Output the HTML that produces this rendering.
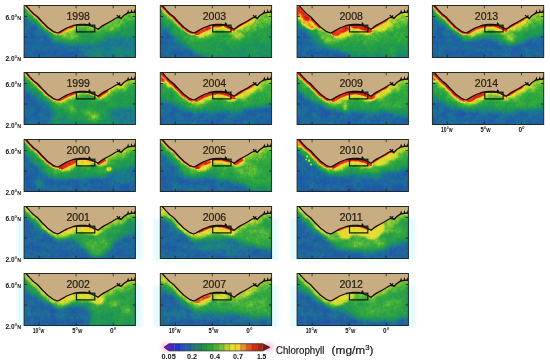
<!DOCTYPE html><html><head><meta charset="utf-8"><title>Chlorophyll</title><style>html,body{margin:0;padding:0;background:#fff}svg{display:block}text{font-family:"Liberation Sans",sans-serif}</style></head><body>
<svg width="550" height="364" viewBox="0 0 550 364">
<defs><filter id="hb" x="-20%" y="-80%" width="140%" height="260%"><feGaussianBlur stdDeviation="1.6"/></filter><filter id="hb2" x="-10%" y="-20%" width="120%" height="140%"><feGaussianBlur stdDeviation="1.2"/></filter><clipPath id="pc"><rect x="0" y="0" width="111.3" height="52"/></clipPath><filter id="b0_5" filterUnits="userSpaceOnUse" x="-40" y="-40" width="200" height="140" color-interpolation-filters="sRGB"><feGaussianBlur stdDeviation="0.5"/></filter><filter id="b0_7" filterUnits="userSpaceOnUse" x="-40" y="-40" width="200" height="140" color-interpolation-filters="sRGB"><feGaussianBlur stdDeviation="0.7"/></filter><filter id="b0_8" filterUnits="userSpaceOnUse" x="-40" y="-40" width="200" height="140" color-interpolation-filters="sRGB"><feGaussianBlur stdDeviation="0.8"/></filter><filter id="b1" filterUnits="userSpaceOnUse" x="-40" y="-40" width="200" height="140" color-interpolation-filters="sRGB"><feGaussianBlur stdDeviation="1"/></filter><filter id="b1_2" filterUnits="userSpaceOnUse" x="-40" y="-40" width="200" height="140" color-interpolation-filters="sRGB"><feGaussianBlur stdDeviation="1.2"/></filter><filter id="b1_5" filterUnits="userSpaceOnUse" x="-40" y="-40" width="200" height="140" color-interpolation-filters="sRGB"><feGaussianBlur stdDeviation="1.5"/></filter><filter id="b1_8" filterUnits="userSpaceOnUse" x="-40" y="-40" width="200" height="140" color-interpolation-filters="sRGB"><feGaussianBlur stdDeviation="1.8"/></filter><filter id="b2" filterUnits="userSpaceOnUse" x="-40" y="-40" width="200" height="140" color-interpolation-filters="sRGB"><feGaussianBlur stdDeviation="2"/></filter><filter id="b2_5" filterUnits="userSpaceOnUse" x="-40" y="-40" width="200" height="140" color-interpolation-filters="sRGB"><feGaussianBlur stdDeviation="2.5"/></filter><filter id="b3" filterUnits="userSpaceOnUse" x="-40" y="-40" width="200" height="140" color-interpolation-filters="sRGB"><feGaussianBlur stdDeviation="3"/></filter><filter id="b3_5" filterUnits="userSpaceOnUse" x="-40" y="-40" width="200" height="140" color-interpolation-filters="sRGB"><feGaussianBlur stdDeviation="3.5"/></filter><filter id="b4" filterUnits="userSpaceOnUse" x="-40" y="-40" width="200" height="140" color-interpolation-filters="sRGB"><feGaussianBlur stdDeviation="4"/></filter><filter id="b5" filterUnits="userSpaceOnUse" x="-40" y="-40" width="200" height="140" color-interpolation-filters="sRGB"><feGaussianBlur stdDeviation="5"/></filter><filter id="cm" x="0" y="0" width="100%" height="100%" filterUnits="objectBoundingBox" color-interpolation-filters="sRGB"><feTurbulence type="fractalNoise" baseFrequency="0.09 0.11" numOctaves="2" seed="3" result="n1"/><feColorMatrix in="n1" type="matrix" values="1 0 0 0 0 1 0 0 0 0 1 0 0 0 0 0 0 0 0 1" result="n1g"/><feTurbulence type="fractalNoise" baseFrequency="0.3" numOctaves="2" seed="10" result="n2"/><feColorMatrix in="n2" type="matrix" values="0 1 0 0 0 0 1 0 0 0 0 1 0 0 0 0 0 0 0 1" result="n2g"/><feComposite in="SourceGraphic" in2="n1g" operator="arithmetic" k1="0" k2="1" k3="0.14" k4="-0.07" result="f1"/><feComposite in="f1" in2="n2g" operator="arithmetic" k1="0" k2="1" k3="0.11" k4="-0.055" result="f2"/><feTurbulence type="fractalNoise" baseFrequency="0.75" numOctaves="1" seed="16" result="n3"/><feColorMatrix in="n3" type="matrix" values="0 0 1 0 0 0 0 1 0 0 0 0 1 0 0 0 0 0 0 1" result="n3g"/><feComposite in="f2" in2="n3g" operator="arithmetic" k1="0" k2="1" k3="0.09" k4="-0.045" result="f3"/><feComponentTransfer in="f3"><feFuncR type="table" tableValues="0.353 0.227 0.157 0.122 0.114 0.102 0.102 0.118 0.157 0.235 0.439 0.722 0.902 0.957 0.941 0.933 0.878 0.659"/><feFuncG type="table" tableValues="0.118 0.173 0.282 0.353 0.416 0.494 0.549 0.596 0.635 0.690 0.761 0.831 0.886 0.784 0.541 0.290 0.141 0.110"/><feFuncB type="table" tableValues="0.784 0.800 0.722 0.659 0.612 0.541 0.416 0.322 0.267 0.227 0.204 0.188 0.188 0.173 0.141 0.118 0.102 0.063"/><feFuncA type="linear" slope="0" intercept="1"/></feComponentTransfer></filter><filter id="cm2" x="0" y="0" width="100%" height="100%" filterUnits="objectBoundingBox" color-interpolation-filters="sRGB"><feTurbulence type="fractalNoise" baseFrequency="0.09 0.11" numOctaves="2" seed="11" result="n1"/><feColorMatrix in="n1" type="matrix" values="1 0 0 0 0 1 0 0 0 0 1 0 0 0 0 0 0 0 0 1" result="n1g"/><feTurbulence type="fractalNoise" baseFrequency="0.3" numOctaves="2" seed="18" result="n2"/><feColorMatrix in="n2" type="matrix" values="0 1 0 0 0 0 1 0 0 0 0 1 0 0 0 0 0 0 0 1" result="n2g"/><feComposite in="SourceGraphic" in2="n1g" operator="arithmetic" k1="0" k2="1" k3="0.14" k4="-0.07" result="f1"/><feComposite in="f1" in2="n2g" operator="arithmetic" k1="0" k2="1" k3="0.11" k4="-0.055" result="f2"/><feTurbulence type="fractalNoise" baseFrequency="0.75" numOctaves="1" seed="24" result="n3"/><feColorMatrix in="n3" type="matrix" values="0 0 1 0 0 0 0 1 0 0 0 0 1 0 0 0 0 0 0 1" result="n3g"/><feComposite in="f2" in2="n3g" operator="arithmetic" k1="0" k2="1" k3="0.09" k4="-0.045" result="f3"/><feComponentTransfer in="f3"><feFuncR type="table" tableValues="0.353 0.227 0.157 0.122 0.114 0.102 0.102 0.118 0.157 0.235 0.439 0.722 0.902 0.957 0.941 0.933 0.878 0.659"/><feFuncG type="table" tableValues="0.118 0.173 0.282 0.353 0.416 0.494 0.549 0.596 0.635 0.690 0.761 0.831 0.886 0.784 0.541 0.290 0.141 0.110"/><feFuncB type="table" tableValues="0.784 0.800 0.722 0.659 0.612 0.541 0.416 0.322 0.267 0.227 0.204 0.188 0.188 0.173 0.141 0.118 0.102 0.063"/><feFuncA type="linear" slope="0" intercept="1"/></feComponentTransfer></filter><filter id="cm3" x="0" y="0" width="100%" height="100%" filterUnits="objectBoundingBox" color-interpolation-filters="sRGB"><feTurbulence type="fractalNoise" baseFrequency="0.09 0.11" numOctaves="2" seed="23" result="n1"/><feColorMatrix in="n1" type="matrix" values="1 0 0 0 0 1 0 0 0 0 1 0 0 0 0 0 0 0 0 1" result="n1g"/><feTurbulence type="fractalNoise" baseFrequency="0.3" numOctaves="2" seed="30" result="n2"/><feColorMatrix in="n2" type="matrix" values="0 1 0 0 0 0 1 0 0 0 0 1 0 0 0 0 0 0 0 1" result="n2g"/><feComposite in="SourceGraphic" in2="n1g" operator="arithmetic" k1="0" k2="1" k3="0.14" k4="-0.07" result="f1"/><feComposite in="f1" in2="n2g" operator="arithmetic" k1="0" k2="1" k3="0.11" k4="-0.055" result="f2"/><feTurbulence type="fractalNoise" baseFrequency="0.75" numOctaves="1" seed="36" result="n3"/><feColorMatrix in="n3" type="matrix" values="0 0 1 0 0 0 0 1 0 0 0 0 1 0 0 0 0 0 0 1" result="n3g"/><feComposite in="f2" in2="n3g" operator="arithmetic" k1="0" k2="1" k3="0.09" k4="-0.045" result="f3"/><feComponentTransfer in="f3"><feFuncR type="table" tableValues="0.353 0.227 0.157 0.122 0.114 0.102 0.102 0.118 0.157 0.235 0.439 0.722 0.902 0.957 0.941 0.933 0.878 0.659"/><feFuncG type="table" tableValues="0.118 0.173 0.282 0.353 0.416 0.494 0.549 0.596 0.635 0.690 0.761 0.831 0.886 0.784 0.541 0.290 0.141 0.110"/><feFuncB type="table" tableValues="0.784 0.800 0.722 0.659 0.612 0.541 0.416 0.322 0.267 0.227 0.204 0.188 0.188 0.173 0.141 0.118 0.102 0.063"/><feFuncA type="linear" slope="0" intercept="1"/></feComponentTransfer></filter><filter id="mu" x="0" y="0" width="100%" height="100%" filterUnits="objectBoundingBox" color-interpolation-filters="sRGB"><feTurbulence type="fractalNoise" baseFrequency="0.09 0.11" numOctaves="2" seed="5" result="n1"/><feColorMatrix in="n1" type="matrix" values="1 0 0 0 0 1 0 0 0 0 1 0 0 0 0 0 0 0 0 1" result="n1g"/><feTurbulence type="fractalNoise" baseFrequency="0.3" numOctaves="2" seed="12" result="n2"/><feColorMatrix in="n2" type="matrix" values="0 1 0 0 0 0 1 0 0 0 0 1 0 0 0 0 0 0 0 1" result="n2g"/><feComposite in="SourceGraphic" in2="n1g" operator="arithmetic" k1="0" k2="1" k3="0.14" k4="-0.07" result="f1"/><feComposite in="f1" in2="n2g" operator="arithmetic" k1="0" k2="1" k3="0.11" k4="-0.055" result="f2"/><feTurbulence type="fractalNoise" baseFrequency="0.75" numOctaves="1" seed="18" result="n3"/><feColorMatrix in="n3" type="matrix" values="0 0 1 0 0 0 0 1 0 0 0 0 1 0 0 0 0 0 0 1" result="n3g"/><feComposite in="f2" in2="n3g" operator="arithmetic" k1="0" k2="1" k3="0.09" k4="-0.045" result="f3"/><feComponentTransfer in="f3"><feFuncR type="table" tableValues="0.353 0.227 0.157 0.122 0.114 0.102 0.102 0.118 0.157 0.235 0.439 0.722 0.902 0.957 0.941 0.933 0.878 0.659"/><feFuncG type="table" tableValues="0.118 0.173 0.282 0.353 0.416 0.494 0.549 0.596 0.635 0.690 0.761 0.831 0.886 0.784 0.541 0.290 0.141 0.110"/><feFuncB type="table" tableValues="0.784 0.800 0.722 0.659 0.612 0.541 0.416 0.322 0.267 0.227 0.204 0.188 0.188 0.173 0.141 0.118 0.102 0.063"/><feFuncA type="linear" slope="0" intercept="1"/></feComponentTransfer><feColorMatrix type="saturate" values="0.97"/></filter><filter id="mu2" x="0" y="0" width="100%" height="100%" filterUnits="objectBoundingBox" color-interpolation-filters="sRGB"><feTurbulence type="fractalNoise" baseFrequency="0.09 0.11" numOctaves="2" seed="17" result="n1"/><feColorMatrix in="n1" type="matrix" values="1 0 0 0 0 1 0 0 0 0 1 0 0 0 0 0 0 0 0 1" result="n1g"/><feTurbulence type="fractalNoise" baseFrequency="0.3" numOctaves="2" seed="24" result="n2"/><feColorMatrix in="n2" type="matrix" values="0 1 0 0 0 0 1 0 0 0 0 1 0 0 0 0 0 0 0 1" result="n2g"/><feComposite in="SourceGraphic" in2="n1g" operator="arithmetic" k1="0" k2="1" k3="0.14" k4="-0.07" result="f1"/><feComposite in="f1" in2="n2g" operator="arithmetic" k1="0" k2="1" k3="0.11" k4="-0.055" result="f2"/><feTurbulence type="fractalNoise" baseFrequency="0.75" numOctaves="1" seed="30" result="n3"/><feColorMatrix in="n3" type="matrix" values="0 0 1 0 0 0 0 1 0 0 0 0 1 0 0 0 0 0 0 1" result="n3g"/><feComposite in="f2" in2="n3g" operator="arithmetic" k1="0" k2="1" k3="0.09" k4="-0.045" result="f3"/><feComponentTransfer in="f3"><feFuncR type="table" tableValues="0.353 0.227 0.157 0.122 0.114 0.102 0.102 0.118 0.157 0.235 0.439 0.722 0.902 0.957 0.941 0.933 0.878 0.659"/><feFuncG type="table" tableValues="0.118 0.173 0.282 0.353 0.416 0.494 0.549 0.596 0.635 0.690 0.761 0.831 0.886 0.784 0.541 0.290 0.141 0.110"/><feFuncB type="table" tableValues="0.784 0.800 0.722 0.659 0.612 0.541 0.416 0.322 0.267 0.227 0.204 0.188 0.188 0.173 0.141 0.118 0.102 0.063"/><feFuncA type="linear" slope="0" intercept="1"/></feComponentTransfer><feColorMatrix type="saturate" values="0.97"/></filter></defs>
<rect width="550" height="364" fill="#fff"/>
<g transform="translate(24.1 5.5)">
<g clip-path="url(#pc)"><g filter="url(#cm)"><rect x="-20" y="-20" width="152" height="92" fill="#383838"/><ellipse cx="92" cy="46" rx="34" ry="15" fill="#4f4f4f" filter="url(#b5)"/><path d="M0.0 9.6L11.3 19.4L24.4 29.2L31.0 35.8L46.0 39.0L61.5 40.0L72.4 37.0L83.3 31.4L98.6 31.4L113.0 32.5L113.0 -6.0L0.0 -6.0Z" fill="#6b6b6b" filter="url(#b2)"/><path d="M-1.5 -3.5L2.3 0.5L6.0 4.6L9.5 8.3L13.5 11.3L18.0 16.3L23.5 21.8L29.0 25.8L30.8 26.5" fill="none" stroke="#737373" stroke-width="8" stroke-linecap="round" stroke-linejoin="round" filter="url(#b1)"/><path d="M-1.5 -3.5L2.3 0.5L6.0 4.6L9.5 8.3L13.5 11.3L18.0 16.3L23.5 21.8L29.0 25.8L32.0 27.0" fill="none" stroke="#8b8b8b" stroke-width="4.96" stroke-linecap="round" stroke-linejoin="round" filter="url(#b1)"/><path d="M37.2 25.7L42.6 22.5L49.2 20.0L55.8 18.8L61.3 18.8L65.7 20.0L68.8 21.2" fill="none" stroke="#787878" stroke-width="18" stroke-linecap="round" stroke-linejoin="round" filter="url(#b3)"/><path d="M34.5 27.0L36.0 26.4L42.6 22.5L49.2 20.0L55.8 18.8L61.3 18.8L65.7 20.0L70.4 21.8L71.5 22.4" fill="none" stroke="#909090" stroke-width="11.16" stroke-linecap="round" stroke-linejoin="round" filter="url(#b2)"/><path d="M81.0 18.8L84.0 17.2L88.0 15.0L92.0 12.5L94.7 11.6L96.9 13.0L99.7 10.0L103.3 7.6L107.5 6.8L113.0 6.4" fill="none" stroke="#787878" stroke-width="20" stroke-linecap="round" stroke-linejoin="round" filter="url(#b3)"/><path d="M78.0 20.7L80.0 19.4L84.0 17.2L88.0 15.0L92.0 12.5L94.7 11.6L96.9 13.0L99.7 10.0L103.3 7.6L107.5 6.8L113.0 6.4" fill="none" stroke="#909090" stroke-width="12.4" stroke-linecap="round" stroke-linejoin="round" filter="url(#b2)"/><ellipse cx="47" cy="31" rx="9" ry="3.5" fill="#949494" transform="rotate(10 47 31)" filter="url(#b2)"/><ellipse cx="90" cy="20" rx="9" ry="3.5" fill="#949494" transform="rotate(-32 90 20)" filter="url(#b2)"/><path d="M-1.5 -3.5L2.3 0.5L6.0 4.6L9.5 8.3L13.5 11.3L18.0 16.3L23.5 21.8L29.0 25.8L32.7 27.2" fill="none" stroke="#b2b2b2" stroke-width="3.2" stroke-linecap="round" stroke-linejoin="round" filter="url(#b1)"/><path d="M-1.5 -3.5L2.3 0.5L6.0 4.6L9.5 8.3L13.5 11.3L18.0 16.3L23.5 21.8L29.0 25.8L32.8 27.3" fill="none" stroke="#d5d5d5" stroke-width="3" stroke-linecap="round" stroke-linejoin="round" filter="url(#b0_7)"/><path d="M-1.5 -3.5L2.3 0.5L6.0 4.6L9.5 8.3L13.5 11.3L18.0 16.3L23.5 21.8L29.0 25.8L33.4 27.5L33.4 27.5" fill="none" stroke="#ededed" stroke-width="1.4" stroke-linecap="round" stroke-linejoin="round" filter="url(#b0_5)"/><path d="M39.0 24.6L42.6 22.5L47.0 20.8" fill="none" stroke="#949494" stroke-width="12.6" stroke-linecap="round" stroke-linejoin="round" filter="url(#b1_5)"/><path d="M37.6 25.5L42.6 22.5L48.4 20.3" fill="none" stroke="#adadad" stroke-width="9" stroke-linecap="round" stroke-linejoin="round" filter="url(#b1)"/><path d="M35.9 26.4L36.0 26.4L42.6 22.5L49.2 20.0L50.1 19.8" fill="none" stroke="#cfcfcf" stroke-width="4.8" stroke-linecap="round" stroke-linejoin="round" filter="url(#b0_7)"/><path d="M35.3 26.7L36.0 26.4L42.6 22.5L49.2 20.0L50.7 19.7" fill="none" stroke="#e6e6e6" stroke-width="3.2" stroke-linecap="round" stroke-linejoin="round" filter="url(#b0_5)"/><path d="M51.4 19.6L55.8 18.8L61.3 18.8L65.7 20.0L70.4 21.8L74.0 23.8L76.8 21.4L80.0 19.4L84.0 17.2L88.0 15.0L92.0 12.5L94.7 11.6L96.9 13.0L99.7 10.0L103.3 7.6L107.5 6.8L113.0 6.4" fill="none" stroke="#999999" stroke-width="3.6" stroke-linecap="round" stroke-linejoin="round" filter="url(#b1)"/></g>
<path d="M-1.5 -3.5L2.3 0.5L6.0 4.6L9.5 8.3L13.5 11.3L18.0 16.3L23.5 21.8L29.0 25.8L33.4 27.5L36.0 26.4L42.6 22.5L49.2 20.0L55.8 18.8L61.3 18.8L65.7 20.0L70.4 21.8L74.0 23.8L76.8 21.4L80.0 19.4L84.0 17.2L88.0 15.0L92.0 12.5L94.7 11.6L96.9 13.0L99.7 10.0L103.3 7.6L107.5 6.8L113.0 6.4L113 -4L-2 -4Z" fill="#c7ad81"/>
<path d="M-1.5 -3.5L2.3 0.5L6.0 4.6L9.5 8.3L13.5 11.3L18.0 16.3L23.5 21.8L29.0 25.8L33.4 27.5L36.0 26.4L42.6 22.5L49.2 20.0L55.8 18.8L61.3 18.8L65.7 20.0L70.4 21.8L74.0 23.8L76.8 21.4L80.0 19.4L84.0 17.2L88.0 15.0L92.0 12.5L94.7 11.6L96.9 13.0L99.7 10.0L103.3 7.6L107.5 6.8L113.0 6.4" fill="none" stroke="#220a02" stroke-width="1.3" stroke-linejoin="round"/>
<path d="M64.6 17.3L66 18.4M92.6 9.7L96.4 12.5M96 9.9L93.8 12.6" stroke="#111" stroke-width="1.25" fill="none"/>
<path d="M63.9 19.6L65.5 16.9L67.3 20.2ZM102.8 8L104 3.9L105.2 7.3ZM106.2 7.2L107.4 3.4L108.5 7ZM109.4 6.9L110.6 3.8L111.3 4.5V6.8Z" fill="#111"/>
</g>
<rect x="52.4" y="19.7" width="18.3" height="6.7" fill="none" stroke="#0c1a08" stroke-width="1.2"/>
<path d="M15 0v2.8M15 52v-2.8M52 0v2.8M52 52v-2.8M89.1 0v2.8M89.1 52v-2.8M0 11h2.8M111.3 11h-2.8M0 31.5h2.8M111.3 31.5h-2.8" stroke="#222" stroke-width="0.8" fill="none"/>
<rect x="0" y="0" width="111.3" height="52" fill="none" stroke="#1c241c" stroke-width="0.95"/>
<text x="42.4" y="14.4" font-size="10.2" textLength="23.4" lengthAdjust="spacingAndGlyphs" fill="#241c12" stroke="#241c12" stroke-width="0.2">1998</text>
</g>
<text x="21.1" y="19.5" font-size="6.6" text-anchor="end" fill="#111" font-weight="bold">6.0°<tspan font-size="5.3">N</tspan></text>
<text x="21.1" y="60.9" font-size="6.6" text-anchor="end" fill="#111" font-weight="bold">2.0°<tspan font-size="5.3">N</tspan></text>
<g transform="translate(24.1 72.5)">
<g clip-path="url(#pc)"><g filter="url(#cm2)"><rect x="-20" y="-20" width="152" height="92" fill="#383838"/><path d="M0.0 12.9L11.3 22.7L22.0 29.0L28.7 40.0L26.0 53.0L113.0 53.0L113.0 -6.0L0.0 -6.0Z" fill="#6e6e6e" filter="url(#b3)"/><ellipse cx="100" cy="44" rx="16" ry="9" fill="#454545" filter="url(#b4)"/><ellipse cx="38" cy="48" rx="6" ry="4" fill="#4c4c4c" filter="url(#b3)"/><path d="M-1.5 -3.5L2.3 0.5L6.0 4.6L9.5 8.3L13.5 11.3L18.0 16.3L23.5 21.8L29.0 25.8L30.0 26.2" fill="none" stroke="#757575" stroke-width="10" stroke-linecap="round" stroke-linejoin="round" filter="url(#b1)"/><path d="M-1.5 -3.5L2.3 0.5L6.0 4.6L9.5 8.3L13.5 11.3L18.0 16.3L23.5 21.8L29.0 25.8L31.5 26.8" fill="none" stroke="#8e8e8e" stroke-width="6.2" stroke-linecap="round" stroke-linejoin="round" filter="url(#b1)"/><path d="M38.0 25.2L42.6 22.5L49.2 20.0L55.8 18.8L61.3 18.8L65.7 20.0L68.0 20.9" fill="none" stroke="#787878" stroke-width="20" stroke-linecap="round" stroke-linejoin="round" filter="url(#b3)"/><path d="M35.0 26.8L36.0 26.4L42.6 22.5L49.2 20.0L55.8 18.8L61.3 18.8L65.7 20.0L70.4 21.8L71.0 22.2" fill="none" stroke="#909090" stroke-width="12.4" stroke-linecap="round" stroke-linejoin="round" filter="url(#b2)"/><path d="M73.0 23.2L74.0 23.8L76.8 21.4L80.0 19.4L84.0 17.2L88.0 15.0L92.0 12.5L94.7 11.6L96.9 13.0L99.7 10.0L103.3 7.6L107.5 6.8L113.0 6.4" fill="none" stroke="#787878" stroke-width="24" stroke-linecap="round" stroke-linejoin="round" filter="url(#b3)"/><path d="M79.0 20.1L80.0 19.4L84.0 17.2L88.0 15.0L92.0 12.5L94.7 11.6L96.9 13.0L99.7 10.0L103.3 7.6L107.5 6.8L113.0 6.4" fill="none" stroke="#909090" stroke-width="14.88" stroke-linecap="round" stroke-linejoin="round" filter="url(#b2)"/><ellipse cx="47" cy="36" rx="4" ry="4.5" fill="#999999" transform="rotate(20 47 36)" filter="url(#b2)"/><ellipse cx="68" cy="43" rx="9" ry="4.5" fill="#949494" transform="rotate(25 68 43)" filter="url(#b2)"/><path d="M-1.5 -3.5L2.3 0.5L6.0 4.6L9.5 8.3L13.5 11.3L18.0 16.3L23.5 21.8L29.0 25.8L32.6 27.2" fill="none" stroke="#b2b2b2" stroke-width="3.6" stroke-linecap="round" stroke-linejoin="round" filter="url(#b1)"/><path d="M-1.5 -3.5L2.3 0.5L6.0 4.6L9.5 8.3L13.5 11.3L18.0 16.3L23.5 21.8L29.0 25.8L32.7 27.2" fill="none" stroke="#d5d5d5" stroke-width="3.2" stroke-linecap="round" stroke-linejoin="round" filter="url(#b0_7)"/><path d="M-1.5 -3.5L2.3 0.5L6.0 4.6L9.5 8.3L13.5 11.3L18.0 16.3L23.5 21.8L29.0 25.8L33.4 27.5" fill="none" stroke="#ededed" stroke-width="1.6" stroke-linecap="round" stroke-linejoin="round" filter="url(#b0_5)"/><path d="M39.0 24.6L42.6 22.5L48.0 20.5" fill="none" stroke="#949494" stroke-width="12.6" stroke-linecap="round" stroke-linejoin="round" filter="url(#b1_5)"/><path d="M37.6 25.5L42.6 22.5L49.2 20.0L49.4 20.0" fill="none" stroke="#b2b2b2" stroke-width="9" stroke-linecap="round" stroke-linejoin="round" filter="url(#b1)"/><path d="M36.2 26.3L42.6 22.5L49.2 20.0L50.8 19.7" fill="none" stroke="#d5d5d5" stroke-width="5.4" stroke-linecap="round" stroke-linejoin="round" filter="url(#b0_7)"/><path d="M35.5 26.6L36.0 26.4L42.6 22.5L49.2 20.0L51.5 19.6" fill="none" stroke="#ededed" stroke-width="3.8" stroke-linecap="round" stroke-linejoin="round" filter="url(#b0_5)"/><path d="M53.3 19.3L55.8 18.8L61.3 18.8L65.7 20.0L70.4 21.8L72.7 23.1" fill="none" stroke="#b2b2b2" stroke-width="3.2" stroke-linecap="round" stroke-linejoin="round" filter="url(#b1)"/><path d="M53.2 19.3L55.8 18.8L61.3 18.8L65.7 20.0L70.4 21.8L72.8 23.1" fill="none" stroke="#d5d5d5" stroke-width="3" stroke-linecap="round" stroke-linejoin="round" filter="url(#b0_7)"/><path d="M52.6 19.4L55.8 18.8L61.3 18.8L65.7 20.0L70.4 21.8L73.4 23.5" fill="none" stroke="#ededed" stroke-width="1.4" stroke-linecap="round" stroke-linejoin="round" filter="url(#b0_5)"/><path d="M78.0 20.6L80.0 19.4L81.0 18.9" fill="none" stroke="#949494" stroke-width="12.6" stroke-linecap="round" stroke-linejoin="round" filter="url(#b1_5)"/><path d="M76.6 21.6L76.8 21.4L80.0 19.4L82.4 18.1" fill="none" stroke="#b2b2b2" stroke-width="9" stroke-linecap="round" stroke-linejoin="round" filter="url(#b1)"/><path d="M75.0 22.9L76.8 21.4L80.0 19.4L84.0 17.2L84.0 17.2" fill="none" stroke="#d5d5d5" stroke-width="5" stroke-linecap="round" stroke-linejoin="round" filter="url(#b0_7)"/><path d="M74.4 23.5L76.8 21.4L80.0 19.4L84.0 17.2L84.6 16.8" fill="none" stroke="#ededed" stroke-width="3.4" stroke-linecap="round" stroke-linejoin="round" filter="url(#b0_5)"/><path d="M88.4 14.7L92.0 12.5L94.7 11.6L96.9 13.0L99.7 10.0L103.3 7.6L107.5 6.8L113.0 6.4" fill="none" stroke="#949494" stroke-width="8.6" stroke-linecap="round" stroke-linejoin="round" filter="url(#b1_5)"/><path d="M87.0 15.6L88.0 15.0L92.0 12.5L94.7 11.6L96.9 13.0L99.7 10.0L103.3 7.6L107.5 6.8L113.0 6.4" fill="none" stroke="#a8a8a8" stroke-width="5" stroke-linecap="round" stroke-linejoin="round" filter="url(#b1)"/></g>
<path d="M-1.5 -3.5L2.3 0.5L6.0 4.6L9.5 8.3L13.5 11.3L18.0 16.3L23.5 21.8L29.0 25.8L33.4 27.5L36.0 26.4L42.6 22.5L49.2 20.0L55.8 18.8L61.3 18.8L65.7 20.0L70.4 21.8L74.0 23.8L76.8 21.4L80.0 19.4L84.0 17.2L88.0 15.0L92.0 12.5L94.7 11.6L96.9 13.0L99.7 10.0L103.3 7.6L107.5 6.8L113.0 6.4L113 -4L-2 -4Z" fill="#c7ad81"/>
<path d="M-1.5 -3.5L2.3 0.5L6.0 4.6L9.5 8.3L13.5 11.3L18.0 16.3L23.5 21.8L29.0 25.8L33.4 27.5L36.0 26.4L42.6 22.5L49.2 20.0L55.8 18.8L61.3 18.8L65.7 20.0L70.4 21.8L74.0 23.8L76.8 21.4L80.0 19.4L84.0 17.2L88.0 15.0L92.0 12.5L94.7 11.6L96.9 13.0L99.7 10.0L103.3 7.6L107.5 6.8L113.0 6.4" fill="none" stroke="#220a02" stroke-width="1.3" stroke-linejoin="round"/>
<path d="M64.6 17.3L66 18.4M92.6 9.7L96.4 12.5M96 9.9L93.8 12.6" stroke="#111" stroke-width="1.25" fill="none"/>
<path d="M63.9 19.6L65.5 16.9L67.3 20.2ZM102.8 8L104 3.9L105.2 7.3ZM106.2 7.2L107.4 3.4L108.5 7ZM109.4 6.9L110.6 3.8L111.3 4.5V6.8Z" fill="#111"/>
</g>
<rect x="52.4" y="19.7" width="18.3" height="6.7" fill="none" stroke="#0c1a08" stroke-width="1.2"/>
<path d="M15 0v2.8M15 52v-2.8M52 0v2.8M52 52v-2.8M89.1 0v2.8M89.1 52v-2.8M0 11h2.8M111.3 11h-2.8M0 31.5h2.8M111.3 31.5h-2.8" stroke="#222" stroke-width="0.8" fill="none"/>
<rect x="0" y="0" width="111.3" height="52" fill="none" stroke="#1c241c" stroke-width="0.95"/>
<text x="42.4" y="14.4" font-size="10.2" textLength="23.4" lengthAdjust="spacingAndGlyphs" fill="#241c12" stroke="#241c12" stroke-width="0.2">1999</text>
</g>
<text x="21.1" y="86.5" font-size="6.6" text-anchor="end" fill="#111" font-weight="bold">6.0°<tspan font-size="5.3">N</tspan></text>
<text x="21.1" y="127.9" font-size="6.6" text-anchor="end" fill="#111" font-weight="bold">2.0°<tspan font-size="5.3">N</tspan></text>
<g transform="translate(24.1 139.5)">
<g clip-path="url(#pc)"><g filter="url(#cm3)"><rect x="-20" y="-20" width="152" height="92" fill="#373737"/><path d="M0.0 12.9L9.0 22.7L20.0 31.4L28.7 34.7L39.6 39.0L57.0 38.0L70.0 37.0L83.3 35.8L94.0 31.4L113.0 27.0L113.0 -6.0L0.0 -6.0Z" fill="#6b6b6b" filter="url(#b2)"/><ellipse cx="100" cy="36" rx="13" ry="6" fill="#4c4c4c" filter="url(#b3_5)"/><ellipse cx="16" cy="43" rx="4.5" ry="3.5" fill="#575757" filter="url(#b2_5)"/><path d="M-1.5 -3.5L2.3 0.5L6.0 4.6L9.5 8.3L13.5 11.3L18.0 16.3L23.5 21.8L29.0 25.8L30.0 26.2" fill="none" stroke="#757575" stroke-width="10" stroke-linecap="round" stroke-linejoin="round" filter="url(#b1)"/><path d="M-1.5 -3.5L2.3 0.5L6.0 4.6L9.5 8.3L13.5 11.3L18.0 16.3L23.5 21.8L29.0 25.8L31.5 26.8" fill="none" stroke="#8e8e8e" stroke-width="6.2" stroke-linecap="round" stroke-linejoin="round" filter="url(#b1)"/><path d="M30.0 26.2L33.4 27.5L36.0 26.4L42.6 22.5L49.2 20.0L55.8 18.8L61.3 18.8L65.7 20.0L70.4 21.8L74.0 23.8L76.0 22.1" fill="none" stroke="#7a7a7a" stroke-width="22" stroke-linecap="round" stroke-linejoin="round" filter="url(#b3)"/><path d="M35.5 26.6L36.0 26.4L42.6 22.5L49.2 20.0L55.8 18.8L61.3 18.8L65.7 20.0L70.4 21.8L70.5 21.9" fill="none" stroke="#939393" stroke-width="13.64" stroke-linecap="round" stroke-linejoin="round" filter="url(#b2)"/><path d="M73.0 23.2L74.0 23.8L76.8 21.4L80.0 19.4L84.0 17.2L88.0 15.0L92.0 12.5L94.7 11.6L96.9 13.0L99.7 10.0L103.3 7.6L107.5 6.8L113.0 6.4" fill="none" stroke="#787878" stroke-width="22" stroke-linecap="round" stroke-linejoin="round" filter="url(#b3)"/><path d="M78.5 20.4L80.0 19.4L84.0 17.2L88.0 15.0L92.0 12.5L94.7 11.6L96.9 13.0L99.7 10.0L103.3 7.6L107.5 6.8L113.0 6.4" fill="none" stroke="#909090" stroke-width="13.64" stroke-linecap="round" stroke-linejoin="round" filter="url(#b2)"/><path d="M-1.5 -3.5L2.3 0.5L6.0 4.6L9.5 8.3L13.5 11.3L18.0 16.3L23.5 21.8L29.0 25.8L32.4 27.1" fill="none" stroke="#b2b2b2" stroke-width="4" stroke-linecap="round" stroke-linejoin="round" filter="url(#b1)"/><path d="M-1.5 -3.5L2.3 0.5L6.0 4.6L9.5 8.3L13.5 11.3L18.0 16.3L23.5 21.8L29.0 25.8L32.6 27.2" fill="none" stroke="#d5d5d5" stroke-width="3.6" stroke-linecap="round" stroke-linejoin="round" filter="url(#b0_7)"/><path d="M-1.5 -3.5L2.3 0.5L6.0 4.6L9.5 8.3L13.5 11.3L18.0 16.3L23.5 21.8L29.0 25.8L33.2 27.4" fill="none" stroke="#ededed" stroke-width="2" stroke-linecap="round" stroke-linejoin="round" filter="url(#b0_5)"/><path d="M41.4 23.2L42.6 22.5L45.6 21.4" fill="none" stroke="#949494" stroke-width="18.6" stroke-linecap="round" stroke-linejoin="round" filter="url(#b1_5)"/><path d="M40.0 24.0L42.6 22.5L47.0 20.8" fill="none" stroke="#b2b2b2" stroke-width="15" stroke-linecap="round" stroke-linejoin="round" filter="url(#b1)"/><path d="M38.0 25.2L42.6 22.5L49.0 20.1" fill="none" stroke="#d5d5d5" stroke-width="10" stroke-linecap="round" stroke-linejoin="round" filter="url(#b0_7)"/><path d="M37.4 25.6L42.6 22.5L49.2 20.0L49.6 19.9" fill="none" stroke="#ededed" stroke-width="8.4" stroke-linecap="round" stroke-linejoin="round" filter="url(#b0_5)"/><ellipse cx="61.5" cy="23.2" rx="9" ry="3.2" fill="#b8b8b8" filter="url(#b1)"/><path d="M53.3 19.3L55.8 18.8L61.3 18.8L65.7 20.0L70.4 21.8L72.7 23.1" fill="none" stroke="#b2b2b2" stroke-width="3.2" stroke-linecap="round" stroke-linejoin="round" filter="url(#b1)"/><path d="M53.3 19.3L55.8 18.8L61.3 18.8L65.7 20.0L70.4 21.8L72.7 23.1" fill="none" stroke="#d5d5d5" stroke-width="3.2" stroke-linecap="round" stroke-linejoin="round" filter="url(#b0_7)"/><path d="M52.6 19.4L55.8 18.8L61.3 18.8L65.7 20.0L70.4 21.8L73.4 23.4" fill="none" stroke="#ededed" stroke-width="1.6" stroke-linecap="round" stroke-linejoin="round" filter="url(#b0_5)"/><path d="M78.4 20.4L77.6 20.9" fill="none" stroke="#949494" stroke-width="13.6" stroke-linecap="round" stroke-linejoin="round" filter="url(#b1_5)"/><path d="M77.0 21.3L79.0 20.0" fill="none" stroke="#b2b2b2" stroke-width="10" stroke-linecap="round" stroke-linejoin="round" filter="url(#b1)"/><path d="M75.5 22.5L76.8 21.4L80.0 19.4L80.5 19.1" fill="none" stroke="#d5d5d5" stroke-width="6.2" stroke-linecap="round" stroke-linejoin="round" filter="url(#b0_7)"/><path d="M74.8 23.1L76.8 21.4L80.0 19.4L81.2 18.8" fill="none" stroke="#ededed" stroke-width="4.6" stroke-linecap="round" stroke-linejoin="round" filter="url(#b0_5)"/><ellipse cx="85" cy="29.7" rx="2.6" ry="2" fill="#ebebeb" filter="url(#b1)"/><path d="M85.8 16.2L88.0 15.0L92.0 12.5L94.7 11.6L96.9 13.0L99.7 10.0L103.3 7.6L107.5 6.8L113.0 6.4" fill="none" stroke="#949494" stroke-width="9.6" stroke-linecap="round" stroke-linejoin="round" filter="url(#b1_5)"/><path d="M84.4 17.0L88.0 15.0L92.0 12.5L94.7 11.6L96.9 13.0L99.7 10.0L103.3 7.6L107.5 6.8L113.0 6.4" fill="none" stroke="#a3a3a3" stroke-width="6" stroke-linecap="round" stroke-linejoin="round" filter="url(#b1)"/></g>
<path d="M-1.5 -3.5L2.3 0.5L6.0 4.6L9.5 8.3L13.5 11.3L18.0 16.3L23.5 21.8L29.0 25.8L33.4 27.5L36.0 26.4L42.6 22.5L49.2 20.0L55.8 18.8L61.3 18.8L65.7 20.0L70.4 21.8L74.0 23.8L76.8 21.4L80.0 19.4L84.0 17.2L88.0 15.0L92.0 12.5L94.7 11.6L96.9 13.0L99.7 10.0L103.3 7.6L107.5 6.8L113.0 6.4L113 -4L-2 -4Z" fill="#c7ad81"/>
<path d="M-1.5 -3.5L2.3 0.5L6.0 4.6L9.5 8.3L13.5 11.3L18.0 16.3L23.5 21.8L29.0 25.8L33.4 27.5L36.0 26.4L42.6 22.5L49.2 20.0L55.8 18.8L61.3 18.8L65.7 20.0L70.4 21.8L74.0 23.8L76.8 21.4L80.0 19.4L84.0 17.2L88.0 15.0L92.0 12.5L94.7 11.6L96.9 13.0L99.7 10.0L103.3 7.6L107.5 6.8L113.0 6.4" fill="none" stroke="#220a02" stroke-width="1.3" stroke-linejoin="round"/>
<path d="M64.6 17.3L66 18.4M92.6 9.7L96.4 12.5M96 9.9L93.8 12.6" stroke="#111" stroke-width="1.25" fill="none"/>
<path d="M63.9 19.6L65.5 16.9L67.3 20.2ZM102.8 8L104 3.9L105.2 7.3ZM106.2 7.2L107.4 3.4L108.5 7ZM109.4 6.9L110.6 3.8L111.3 4.5V6.8Z" fill="#111"/>
</g>
<rect x="52.4" y="19.7" width="18.3" height="6.7" fill="none" stroke="#0c1a08" stroke-width="1.2"/>
<path d="M15 0v2.8M15 52v-2.8M52 0v2.8M52 52v-2.8M89.1 0v2.8M89.1 52v-2.8M0 11h2.8M111.3 11h-2.8M0 31.5h2.8M111.3 31.5h-2.8" stroke="#222" stroke-width="0.8" fill="none"/>
<rect x="0" y="0" width="111.3" height="52" fill="none" stroke="#1c241c" stroke-width="0.95"/>
<text x="42.4" y="14.4" font-size="10.2" textLength="23.4" lengthAdjust="spacingAndGlyphs" fill="#241c12" stroke="#241c12" stroke-width="0.2">2000</text>
</g>
<text x="21.1" y="153.5" font-size="6.6" text-anchor="end" fill="#111" font-weight="bold">6.0°<tspan font-size="5.3">N</tspan></text>
<text x="21.1" y="194.9" font-size="6.6" text-anchor="end" fill="#111" font-weight="bold">2.0°<tspan font-size="5.3">N</tspan></text>
<rect x="17.1" y="218.5" width="125.3" height="42" fill="#e6fbff" filter="url(#hb2)"/>
<g transform="translate(24.1 206.5)">
<g clip-path="url(#pc)"><g filter="url(#mu)"><rect x="-20" y="-20" width="152" height="92" fill="#383838"/><path d="M0.0 8.5L11.3 18.3L24.4 27.0L33.0 31.4L50.5 33.6L59.3 40.0L72.4 51.0L83.3 45.6L89.8 35.8L100.8 29.0L113.0 22.7L113.0 -6.0L0.0 -6.0Z" fill="#757575" filter="url(#b2)"/><ellipse cx="72" cy="38" rx="10" ry="8" fill="#8c8c8c" filter="url(#b3)"/><ellipse cx="104" cy="22" rx="7" ry="5" fill="#575757" filter="url(#b3)"/><path d="M-1.5 -3.5L2.3 0.5L6.0 4.6L9.5 8.3L13.5 11.3L18.0 16.3L23.5 21.8L29.0 25.8L30.8 26.5" fill="none" stroke="#7d7d7d" stroke-width="8" stroke-linecap="round" stroke-linejoin="round" filter="url(#b1)"/><path d="M-1.5 -3.5L2.3 0.5L6.0 4.6L9.5 8.3L13.5 11.3L18.0 16.3L23.5 21.8L29.0 25.8L32.0 27.0" fill="none" stroke="#959595" stroke-width="4.96" stroke-linecap="round" stroke-linejoin="round" filter="url(#b1)"/><path d="M35.6 26.6L36.0 26.4L42.6 22.5L49.2 20.0L55.8 18.8L61.3 18.8L65.7 20.0L70.4 21.8L74.0 23.8L76.8 21.4L80.0 19.4L84.0 17.2L88.0 15.0L92.0 12.5L94.7 11.6L96.9 13.0L99.7 10.0L103.3 7.6L107.5 6.8L113.0 6.4" fill="none" stroke="#808080" stroke-width="14" stroke-linecap="round" stroke-linejoin="round" filter="url(#b2)"/><path d="M33.5 27.5L36.0 26.4L42.6 22.5L49.2 20.0L55.8 18.8L61.3 18.8L65.7 20.0L70.4 21.8L74.0 23.8L76.8 21.4L80.0 19.4L84.0 17.2L88.0 15.0L92.0 12.5L94.7 11.6L96.9 13.0L99.7 10.0L103.3 7.6L107.5 6.8L113.0 6.4" fill="none" stroke="#989898" stroke-width="8.68" stroke-linecap="round" stroke-linejoin="round" filter="url(#b1)"/><path d="M-1.5 -3.5L2.3 0.5L6.0 4.6L9.5 8.3L13.5 11.3L18.0 16.3L23.5 21.8L29.0 25.8L31.9 26.9" fill="none" stroke="#a8a8a8" stroke-width="5.2" stroke-linecap="round" stroke-linejoin="round" filter="url(#b1)"/><path d="M40.2 23.9L42.6 22.5L49.2 20.0L55.8 18.8L61.3 18.8L65.7 20.0L69.8 21.6" fill="none" stroke="#949494" stroke-width="15.6" stroke-linecap="round" stroke-linejoin="round" filter="url(#b1_5)"/><path d="M38.8 24.7L42.6 22.5L49.2 20.0L55.8 18.8L61.3 18.8L65.7 20.0L70.4 21.8L71.2 22.2" fill="none" stroke="#b0b0b0" stroke-width="12" stroke-linecap="round" stroke-linejoin="round" filter="url(#b1)"/><ellipse cx="61.5" cy="23.2" rx="9" ry="3.2" fill="#b5b5b5" filter="url(#b1)"/><path d="M41.3 23.3L42.6 22.5L49.2 20.0L55.8 18.8L61.3 18.8L65.7 20.0L70.4 21.8L72.7 23.1" fill="none" stroke="#cbcbcb" stroke-width="3.2" stroke-linecap="round" stroke-linejoin="round" filter="url(#b0_7)"/><path d="M40.6 23.7L42.6 22.5L49.2 20.0L55.8 18.8L61.3 18.8L65.7 20.0L70.4 21.8L73.4 23.4" fill="none" stroke="#d9d9d9" stroke-width="1.6" stroke-linecap="round" stroke-linejoin="round" filter="url(#b0_5)"/><path d="M77.8 20.8L80.0 19.4L84.0 17.2L88.0 15.0L92.0 12.5L94.7 11.6L96.9 13.0L98.2 11.6" fill="none" stroke="#9e9e9e" stroke-width="4.4" stroke-linecap="round" stroke-linejoin="round" filter="url(#b1)"/></g>
<path d="M-1.5 -3.5L2.3 0.5L6.0 4.6L9.5 8.3L13.5 11.3L18.0 16.3L23.5 21.8L29.0 25.8L33.4 27.5L36.0 26.4L42.6 22.5L49.2 20.0L55.8 18.8L61.3 18.8L65.7 20.0L70.4 21.8L74.0 23.8L76.8 21.4L80.0 19.4L84.0 17.2L88.0 15.0L92.0 12.5L94.7 11.6L96.9 13.0L99.7 10.0L103.3 7.6L107.5 6.8L113.0 6.4L113 -4L-2 -4Z" fill="#c7ad81"/>
<path d="M-1.5 -3.5L2.3 0.5L6.0 4.6L9.5 8.3L13.5 11.3L18.0 16.3L23.5 21.8L29.0 25.8L33.4 27.5L36.0 26.4L42.6 22.5L49.2 20.0L55.8 18.8L61.3 18.8L65.7 20.0L70.4 21.8L74.0 23.8L76.8 21.4L80.0 19.4L84.0 17.2L88.0 15.0L92.0 12.5L94.7 11.6L96.9 13.0L99.7 10.0L103.3 7.6L107.5 6.8L113.0 6.4" fill="none" stroke="#220a02" stroke-width="1.3" stroke-linejoin="round"/>
<path d="M64.6 17.3L66 18.4M92.6 9.7L96.4 12.5M96 9.9L93.8 12.6" stroke="#111" stroke-width="1.25" fill="none"/>
<path d="M63.9 19.6L65.5 16.9L67.3 20.2ZM102.8 8L104 3.9L105.2 7.3ZM106.2 7.2L107.4 3.4L108.5 7ZM109.4 6.9L110.6 3.8L111.3 4.5V6.8Z" fill="#111"/>
</g>
<rect x="52.4" y="19.7" width="18.3" height="6.7" fill="none" stroke="#0c1a08" stroke-width="1.2"/>
<path d="M15 0v2.8M15 52v-2.8M52 0v2.8M52 52v-2.8M89.1 0v2.8M89.1 52v-2.8M0 11h2.8M111.3 11h-2.8M0 31.5h2.8M111.3 31.5h-2.8" stroke="#222" stroke-width="0.8" fill="none"/>
<rect x="0" y="0" width="111.3" height="52" fill="none" stroke="#1c241c" stroke-width="0.95"/>
<text x="42.4" y="14.4" font-size="10.2" textLength="23.4" lengthAdjust="spacingAndGlyphs" fill="#241c12" stroke="#241c12" stroke-width="0.2">2001</text>
</g>
<text x="21.1" y="220.5" font-size="6.6" text-anchor="end" fill="#111" font-weight="bold">6.0°<tspan font-size="5.3">N</tspan></text>
<text x="21.1" y="261.9" font-size="6.6" text-anchor="end" fill="#111" font-weight="bold">2.0°<tspan font-size="5.3">N</tspan></text>
<rect x="17.1" y="285.5" width="125.3" height="42" fill="#e6fbff" filter="url(#hb2)"/>
<g transform="translate(24.1 273.5)">
<g clip-path="url(#pc)"><g filter="url(#mu2)"><rect x="-20" y="-20" width="152" height="92" fill="#383838"/><path d="M0.0 12.9L9.0 20.5L22.0 29.0L39.6 31.4L61.5 31.4L68.0 40.0L65.8 53.0L113.0 53.0L113.0 -6.0L0.0 -6.0Z" fill="#757575" filter="url(#b2_5)"/><ellipse cx="102" cy="37" rx="4" ry="4" fill="#949494" filter="url(#b2)"/><ellipse cx="90" cy="30" rx="8" ry="4" fill="#8f8f8f" filter="url(#b2_5)"/><ellipse cx="84" cy="47" rx="12" ry="5" fill="#616161" filter="url(#b3)"/><path d="M-1.5 -3.5L2.3 0.5L6.0 4.6L9.5 8.3L13.5 11.3L18.0 16.3L23.5 21.8L29.0 25.8L30.4 26.3" fill="none" stroke="#7d7d7d" stroke-width="9" stroke-linecap="round" stroke-linejoin="round" filter="url(#b1)"/><path d="M-1.5 -3.5L2.3 0.5L6.0 4.6L9.5 8.3L13.5 11.3L18.0 16.3L23.5 21.8L29.0 25.8L31.8 26.9" fill="none" stroke="#959595" stroke-width="5.58" stroke-linecap="round" stroke-linejoin="round" filter="url(#b1)"/><path d="M36.4 26.2L42.6 22.5L49.2 20.0L55.8 18.8L61.3 18.8L65.7 20.0L70.4 21.8L74.0 23.8L76.8 21.4L80.0 19.4L84.0 17.2L88.0 15.0L92.0 12.5L94.7 11.6L96.9 13.0L99.7 10.0L103.3 7.6L107.5 6.8L113.0 6.4" fill="none" stroke="#808080" stroke-width="16" stroke-linecap="round" stroke-linejoin="round" filter="url(#b2)"/><path d="M34.0 27.3L36.0 26.4L42.6 22.5L49.2 20.0L55.8 18.8L61.3 18.8L65.7 20.0L70.4 21.8L74.0 23.8L76.8 21.4L80.0 19.4L84.0 17.2L88.0 15.0L92.0 12.5L94.7 11.6L96.9 13.0L99.7 10.0L103.3 7.6L107.5 6.8L113.0 6.4" fill="none" stroke="#989898" stroke-width="9.92" stroke-linecap="round" stroke-linejoin="round" filter="url(#b2)"/><path d="M-1.5 -3.5L2.3 0.5L6.0 4.6L9.5 8.3L13.5 11.3L18.0 16.3L23.5 21.8L29.0 25.8L31.4 26.7" fill="none" stroke="#a8a8a8" stroke-width="6.4" stroke-linecap="round" stroke-linejoin="round" filter="url(#b1)"/><path d="M40.6 23.7L42.6 22.5L49.2 20.0L55.8 18.8L61.3 18.8L65.7 20.0L70.4 21.8L73.4 23.4" fill="none" stroke="#949494" stroke-width="16.6" stroke-linecap="round" stroke-linejoin="round" filter="url(#b1_5)"/><path d="M39.2 24.5L42.6 22.5L49.2 20.0L55.8 18.8L61.3 18.8L65.7 20.0L70.4 21.8L74.0 23.8L74.8 23.1" fill="none" stroke="#b0b0b0" stroke-width="13" stroke-linecap="round" stroke-linejoin="round" filter="url(#b1)"/><path d="M80.2 19.3L84.0 17.2L88.0 15.0L92.0 12.5L94.7 11.6L96.9 13.0L99.7 10.0L103.3 7.6L107.5 6.8L113.0 6.4" fill="none" stroke="#a3a3a3" stroke-width="5.6" stroke-linecap="round" stroke-linejoin="round" filter="url(#b1)"/></g>
<path d="M-1.5 -3.5L2.3 0.5L6.0 4.6L9.5 8.3L13.5 11.3L18.0 16.3L23.5 21.8L29.0 25.8L33.4 27.5L36.0 26.4L42.6 22.5L49.2 20.0L55.8 18.8L61.3 18.8L65.7 20.0L70.4 21.8L74.0 23.8L76.8 21.4L80.0 19.4L84.0 17.2L88.0 15.0L92.0 12.5L94.7 11.6L96.9 13.0L99.7 10.0L103.3 7.6L107.5 6.8L113.0 6.4L113 -4L-2 -4Z" fill="#c7ad81"/>
<path d="M-1.5 -3.5L2.3 0.5L6.0 4.6L9.5 8.3L13.5 11.3L18.0 16.3L23.5 21.8L29.0 25.8L33.4 27.5L36.0 26.4L42.6 22.5L49.2 20.0L55.8 18.8L61.3 18.8L65.7 20.0L70.4 21.8L74.0 23.8L76.8 21.4L80.0 19.4L84.0 17.2L88.0 15.0L92.0 12.5L94.7 11.6L96.9 13.0L99.7 10.0L103.3 7.6L107.5 6.8L113.0 6.4" fill="none" stroke="#220a02" stroke-width="1.3" stroke-linejoin="round"/>
<path d="M64.6 17.3L66 18.4M92.6 9.7L96.4 12.5M96 9.9L93.8 12.6" stroke="#111" stroke-width="1.25" fill="none"/>
<path d="M63.9 19.6L65.5 16.9L67.3 20.2ZM102.8 8L104 3.9L105.2 7.3ZM106.2 7.2L107.4 3.4L108.5 7ZM109.4 6.9L110.6 3.8L111.3 4.5V6.8Z" fill="#111"/>
</g>
<rect x="52.4" y="19.7" width="18.3" height="6.7" fill="none" stroke="#0c1a08" stroke-width="1.2"/>
<path d="M15 0v2.8M15 52v-2.8M52 0v2.8M52 52v-2.8M89.1 0v2.8M89.1 52v-2.8M0 11h2.8M111.3 11h-2.8M0 31.5h2.8M111.3 31.5h-2.8" stroke="#222" stroke-width="0.8" fill="none"/>
<rect x="0" y="0" width="111.3" height="52" fill="none" stroke="#1c241c" stroke-width="0.95"/>
<text x="42.4" y="14.4" font-size="10.2" textLength="23.4" lengthAdjust="spacingAndGlyphs" fill="#241c12" stroke="#241c12" stroke-width="0.2">2002</text>
</g>
<text x="21.1" y="287.5" font-size="6.6" text-anchor="end" fill="#111" font-weight="bold">6.0°<tspan font-size="5.3">N</tspan></text>
<text x="21.1" y="328.9" font-size="6.6" text-anchor="end" fill="#111" font-weight="bold">2.0°<tspan font-size="5.3">N</tspan></text>
<text x="32.7" y="333.4" font-size="6.3" textLength="11.6" lengthAdjust="spacingAndGlyphs" fill="#111" font-weight="bold">10°<tspan font-size="5">W</tspan></text>
<text x="72.3" y="333.4" font-size="6.3" textLength="10" lengthAdjust="spacingAndGlyphs" fill="#111" font-weight="bold">5°<tspan font-size="5">W</tspan></text>
<text x="110.1" y="333.4" font-size="6.3" textLength="6.2" lengthAdjust="spacingAndGlyphs" fill="#111" font-weight="bold">0°</text>
<g transform="translate(160.3 5.5)">
<g clip-path="url(#pc)"><g filter="url(#cm)"><rect x="-20" y="-20" width="152" height="92" fill="#393939"/><path d="M0.0 18.0L11.0 27.0L22.0 34.7L28.4 40.0L35.0 46.7L46.0 53.0L113.0 53.0L113.0 -6.0L0.0 -6.0Z" fill="#707070" filter="url(#b2_5)"/><ellipse cx="75" cy="47" rx="14" ry="4.5" fill="#5e5e5e" filter="url(#b3)"/><ellipse cx="102" cy="47" rx="12" ry="6" fill="#5e5e5e" filter="url(#b3)"/><path d="M-1.5 -3.5L2.3 0.5L6.0 4.6L9.5 8.3L13.5 11.3L18.0 16.3L23.5 21.8L28.4 25.4" fill="none" stroke="#787878" stroke-width="14" stroke-linecap="round" stroke-linejoin="round" filter="url(#b2)"/><path d="M-1.5 -3.5L2.3 0.5L6.0 4.6L9.5 8.3L13.5 11.3L18.0 16.3L23.5 21.8L29.0 25.8L30.5 26.4" fill="none" stroke="#909090" stroke-width="8.68" stroke-linecap="round" stroke-linejoin="round" filter="url(#b1)"/><path d="M30.0 26.2L33.4 27.5L36.0 26.4L42.6 22.5L49.2 20.0L55.8 18.8L61.3 18.8L65.7 20.0L70.4 21.8L74.0 23.8L76.0 22.1" fill="none" stroke="#7a7a7a" stroke-width="26" stroke-linecap="round" stroke-linejoin="round" filter="url(#b4)"/><path d="M36.4 26.1L42.6 22.5L49.2 20.0L55.8 18.8L61.3 18.8L65.7 20.0L69.6 21.5" fill="none" stroke="#939393" stroke-width="16.12" stroke-linecap="round" stroke-linejoin="round" filter="url(#b3)"/><path d="M73.0 23.2L74.0 23.8L76.8 21.4L80.0 19.4L84.0 17.2L88.0 15.0L92.0 12.5L94.7 11.6L96.9 13.0L99.7 10.0L103.3 7.6L107.5 6.8L113.0 6.4" fill="none" stroke="#7a7a7a" stroke-width="32" stroke-linecap="round" stroke-linejoin="round" filter="url(#b5)"/><path d="M80.9 18.9L84.0 17.2L88.0 15.0L92.0 12.5L94.7 11.6L96.9 13.0L99.7 10.0L103.3 7.6L107.5 6.8L113.0 6.4" fill="none" stroke="#939393" stroke-width="19.84" stroke-linecap="round" stroke-linejoin="round" filter="url(#b3)"/><ellipse cx="78" cy="29" rx="6" ry="4" fill="#a3a3a3" filter="url(#b2)"/><path d="M-1.5 -3.5L2.3 0.5L6.0 4.6L9.5 8.3L13.5 11.3L18.0 16.3L23.5 21.8L29.0 25.8L32.1 27.0" fill="none" stroke="#b2b2b2" stroke-width="4.8" stroke-linecap="round" stroke-linejoin="round" filter="url(#b1)"/><path d="M-1.5 -3.5L2.3 0.5L6.0 4.6L9.5 8.3L13.5 11.3L18.0 16.3L23.5 21.8L29.0 25.8L32.3 27.1" fill="none" stroke="#d5d5d5" stroke-width="4.2" stroke-linecap="round" stroke-linejoin="round" filter="url(#b0_7)"/><path d="M-1.5 -3.5L2.3 0.5L6.0 4.6L9.5 8.3L13.5 11.3L18.0 16.3L23.5 21.8L29.0 25.8L33.0 27.3" fill="none" stroke="#ededed" stroke-width="2.6" stroke-linecap="round" stroke-linejoin="round" filter="url(#b0_5)"/><path d="M41.4 23.2L42.6 22.5L46.6 21.0" fill="none" stroke="#949494" stroke-width="18.6" stroke-linecap="round" stroke-linejoin="round" filter="url(#b1_5)"/><path d="M40.0 24.0L42.6 22.5L48.0 20.5" fill="none" stroke="#b2b2b2" stroke-width="15" stroke-linecap="round" stroke-linejoin="round" filter="url(#b1)"/><path d="M37.4 25.5L42.6 22.5L49.2 20.0L50.6 19.8" fill="none" stroke="#d5d5d5" stroke-width="8.6" stroke-linecap="round" stroke-linejoin="round" filter="url(#b0_7)"/><path d="M36.8 25.9L42.6 22.5L49.2 20.0L51.2 19.6" fill="none" stroke="#ededed" stroke-width="7" stroke-linecap="round" stroke-linejoin="round" filter="url(#b0_5)"/><path d="M58.2 18.8L59.8 18.8" fill="none" stroke="#949494" stroke-width="15.6" stroke-linecap="round" stroke-linejoin="round" filter="url(#b1_5)"/><path d="M56.8 18.8L61.2 18.8" fill="none" stroke="#b2b2b2" stroke-width="12" stroke-linecap="round" stroke-linejoin="round" filter="url(#b1)"/><path d="M54.6 19.0L55.8 18.8L61.3 18.8L63.4 19.4" fill="none" stroke="#d5d5d5" stroke-width="6.6" stroke-linecap="round" stroke-linejoin="round" filter="url(#b0_7)"/><path d="M54.0 19.1L55.8 18.8L61.3 18.8L64.0 19.5" fill="none" stroke="#ededed" stroke-width="5" stroke-linecap="round" stroke-linejoin="round" filter="url(#b0_5)"/><path d="M69.4 21.4L70.4 21.8L70.6 21.9" fill="none" stroke="#949494" stroke-width="13.6" stroke-linecap="round" stroke-linejoin="round" filter="url(#b1_5)"/><path d="M68.0 20.9L70.4 21.8L72.0 22.7" fill="none" stroke="#b2b2b2" stroke-width="10" stroke-linecap="round" stroke-linejoin="round" filter="url(#b1)"/><path d="M66.0 20.1L70.4 21.8L74.0 23.8L74.0 23.8" fill="none" stroke="#d5d5d5" stroke-width="5" stroke-linecap="round" stroke-linejoin="round" filter="url(#b0_7)"/><path d="M65.4 19.9L65.7 20.0L70.4 21.8L74.0 23.8L74.6 23.3" fill="none" stroke="#ededed" stroke-width="3.4" stroke-linecap="round" stroke-linejoin="round" filter="url(#b0_5)"/><path d="M80.0 19.4L84.0 17.2L88.0 15.0L92.0 12.5" fill="none" stroke="#949494" stroke-width="12.6" stroke-linecap="round" stroke-linejoin="round" filter="url(#b1_5)"/><path d="M78.6 20.3L80.0 19.4L84.0 17.2L88.0 15.0L92.0 12.5L93.4 12.0" fill="none" stroke="#b2b2b2" stroke-width="9" stroke-linecap="round" stroke-linejoin="round" filter="url(#b1)"/><path d="M76.4 21.7L76.8 21.4L80.0 19.4L84.0 17.2L88.0 15.0L92.0 12.5L94.7 11.6L95.6 12.1" fill="none" stroke="#d5d5d5" stroke-width="3.6" stroke-linecap="round" stroke-linejoin="round" filter="url(#b0_7)"/><path d="M75.8 22.3L76.8 21.4L80.0 19.4L84.0 17.2L88.0 15.0L92.0 12.5L94.7 11.6L96.2 12.6" fill="none" stroke="#ededed" stroke-width="2" stroke-linecap="round" stroke-linejoin="round" filter="url(#b0_5)"/><path d="M98.2 11.6L99.7 10.0L103.3 7.6L107.5 6.8L113.0 6.4" fill="none" stroke="#949494" stroke-width="8" stroke-linecap="round" stroke-linejoin="round" filter="url(#b1_5)"/><path d="M96.8 12.9L96.9 13.0L99.7 10.0L103.3 7.6L107.5 6.8L113.0 6.4" fill="none" stroke="#9e9e9e" stroke-width="4.4" stroke-linecap="round" stroke-linejoin="round" filter="url(#b1)"/></g>
<path d="M-1.5 -3.5L2.3 0.5L6.0 4.6L9.5 8.3L13.5 11.3L18.0 16.3L23.5 21.8L29.0 25.8L33.4 27.5L36.0 26.4L42.6 22.5L49.2 20.0L55.8 18.8L61.3 18.8L65.7 20.0L70.4 21.8L74.0 23.8L76.8 21.4L80.0 19.4L84.0 17.2L88.0 15.0L92.0 12.5L94.7 11.6L96.9 13.0L99.7 10.0L103.3 7.6L107.5 6.8L113.0 6.4L113 -4L-2 -4Z" fill="#c7ad81"/>
<path d="M-1.5 -3.5L2.3 0.5L6.0 4.6L9.5 8.3L13.5 11.3L18.0 16.3L23.5 21.8L29.0 25.8L33.4 27.5L36.0 26.4L42.6 22.5L49.2 20.0L55.8 18.8L61.3 18.8L65.7 20.0L70.4 21.8L74.0 23.8L76.8 21.4L80.0 19.4L84.0 17.2L88.0 15.0L92.0 12.5L94.7 11.6L96.9 13.0L99.7 10.0L103.3 7.6L107.5 6.8L113.0 6.4" fill="none" stroke="#220a02" stroke-width="1.3" stroke-linejoin="round"/>
<path d="M64.6 17.3L66 18.4M92.6 9.7L96.4 12.5M96 9.9L93.8 12.6" stroke="#111" stroke-width="1.25" fill="none"/>
<path d="M63.9 19.6L65.5 16.9L67.3 20.2ZM102.8 8L104 3.9L105.2 7.3ZM106.2 7.2L107.4 3.4L108.5 7ZM109.4 6.9L110.6 3.8L111.3 4.5V6.8Z" fill="#111"/>
</g>
<rect x="52.4" y="19.7" width="18.3" height="6.7" fill="none" stroke="#0c1a08" stroke-width="1.2"/>
<path d="M15 0v2.8M15 52v-2.8M52 0v2.8M52 52v-2.8M89.1 0v2.8M89.1 52v-2.8M0 11h2.8M111.3 11h-2.8M0 31.5h2.8M111.3 31.5h-2.8" stroke="#222" stroke-width="0.8" fill="none"/>
<rect x="0" y="0" width="111.3" height="52" fill="none" stroke="#1c241c" stroke-width="0.95"/>
<text x="42.4" y="14.4" font-size="10.2" textLength="23.4" lengthAdjust="spacingAndGlyphs" fill="#241c12" stroke="#241c12" stroke-width="0.2">2003</text>
</g>
<g transform="translate(160.3 72.5)">
<g clip-path="url(#pc)"><g filter="url(#cm2)"><rect x="-20" y="-20" width="152" height="92" fill="#393939"/><path d="M0.0 29.0L17.5 32.5L35.0 39.0L52.0 39.0L72.0 36.0L94.0 34.7L113.0 32.5L113.0 -6.0L0.0 -6.0Z" fill="#666666" filter="url(#b2_5)"/><path d="M0.0 25.0L17.5 28.0L35.0 34.0L52.0 34.5L72.0 32.0L94.0 31.0L113.0 29.0L113.0 -6.0L0.0 -6.0Z" fill="#7a7a7a" filter="url(#b2)"/><ellipse cx="14" cy="22" rx="6" ry="4" fill="#5e5e5e" filter="url(#b2_5)"/><path d="M-1.5 -3.5L2.3 0.5L6.0 4.6L9.5 8.3L13.5 11.3L18.0 16.3L23.5 21.8L27.6 24.8" fill="none" stroke="#7a7a7a" stroke-width="16" stroke-linecap="round" stroke-linejoin="round" filter="url(#b2)"/><path d="M-1.5 -3.5L2.3 0.5L6.0 4.6L9.5 8.3L13.5 11.3L18.0 16.3L23.5 21.8L29.0 25.8L30.0 26.2" fill="none" stroke="#939393" stroke-width="9.92" stroke-linecap="round" stroke-linejoin="round" filter="url(#b2)"/><path d="M30.0 26.2L33.4 27.5L36.0 26.4L42.6 22.5L49.2 20.0L55.8 18.8L61.3 18.8L65.7 20.0L70.4 21.8L74.0 23.8L76.0 22.1" fill="none" stroke="#7d7d7d" stroke-width="22" stroke-linecap="round" stroke-linejoin="round" filter="url(#b3)"/><path d="M35.5 26.6L36.0 26.4L42.6 22.5L49.2 20.0L55.8 18.8L61.3 18.8L65.7 20.0L70.4 21.8L70.5 21.9" fill="none" stroke="#959595" stroke-width="13.64" stroke-linecap="round" stroke-linejoin="round" filter="url(#b2)"/><path d="M73.0 23.2L74.0 23.8L76.8 21.4L80.0 19.4L84.0 17.2L88.0 15.0L92.0 12.5L94.7 11.6L96.9 13.0L99.7 10.0L103.3 7.6L107.5 6.8L113.0 6.4" fill="none" stroke="#7d7d7d" stroke-width="28" stroke-linecap="round" stroke-linejoin="round" filter="url(#b4)"/><path d="M79.9 19.4L80.0 19.4L84.0 17.2L88.0 15.0L92.0 12.5L94.7 11.6L96.9 13.0L99.7 10.0L103.3 7.6L107.5 6.8L113.0 6.4" fill="none" stroke="#959595" stroke-width="17.36" stroke-linecap="round" stroke-linejoin="round" filter="url(#b3)"/><ellipse cx="3" cy="6" rx="3.5" ry="4.5" fill="#ededed" filter="url(#b1_2)"/><ellipse cx="9" cy="11.5" rx="2.5" ry="2" fill="#dbdbdb" filter="url(#b1)"/><path d="M-1.5 -3.5L2.3 0.5L6.0 4.6L9.5 8.3L13.5 11.3L18.0 16.3L23.5 21.8L29.0 25.8L31.4 26.7" fill="none" stroke="#b2b2b2" stroke-width="6.4" stroke-linecap="round" stroke-linejoin="round" filter="url(#b1)"/><path d="M-1.5 -3.5L2.3 0.5L6.0 4.6L9.5 8.3L13.5 11.3L18.0 16.3L23.5 21.8L29.0 25.8L31.9 26.9" fill="none" stroke="#d5d5d5" stroke-width="5.2" stroke-linecap="round" stroke-linejoin="round" filter="url(#b0_7)"/><path d="M-1.5 -3.5L2.3 0.5L6.0 4.6L9.5 8.3L13.5 11.3L18.0 16.3L23.5 21.8L29.0 25.8L32.6 27.2" fill="none" stroke="#ededed" stroke-width="3.6" stroke-linecap="round" stroke-linejoin="round" filter="url(#b0_5)"/><path d="M40.6 23.7L42.6 22.5L49.2 20.0L55.8 18.8L61.3 18.8L65.7 20.0L69.4 21.4" fill="none" stroke="#949494" stroke-width="16.6" stroke-linecap="round" stroke-linejoin="round" filter="url(#b1_5)"/><path d="M39.2 24.5L42.6 22.5L49.2 20.0L55.8 18.8L61.3 18.8L65.7 20.0L70.4 21.8L70.8 22.0" fill="none" stroke="#b2b2b2" stroke-width="13" stroke-linecap="round" stroke-linejoin="round" filter="url(#b1)"/><path d="M36.8 25.9L42.6 22.5L49.2 20.0L55.8 18.8L61.3 18.8L65.7 20.0L70.4 21.8L73.2 23.4" fill="none" stroke="#d5d5d5" stroke-width="7" stroke-linecap="round" stroke-linejoin="round" filter="url(#b0_7)"/><path d="M36.2 26.3L42.6 22.5L49.2 20.0L55.8 18.8L61.3 18.8L65.7 20.0L70.4 21.8L73.8 23.7" fill="none" stroke="#ededed" stroke-width="5.4" stroke-linecap="round" stroke-linejoin="round" filter="url(#b0_5)"/><path d="M82.0 18.3L84.0 17.2L88.0 15.0L90.0 13.8" fill="none" stroke="#949494" stroke-width="17.6" stroke-linecap="round" stroke-linejoin="round" filter="url(#b1_5)"/><path d="M80.6 19.1L84.0 17.2L88.0 15.0L91.4 12.9" fill="none" stroke="#b2b2b2" stroke-width="14" stroke-linecap="round" stroke-linejoin="round" filter="url(#b1)"/><path d="M76.6 21.6L76.8 21.4L80.0 19.4L84.0 17.2L88.0 15.0L92.0 12.5L94.7 11.6L95.4 12.0" fill="none" stroke="#d5d5d5" stroke-width="4" stroke-linecap="round" stroke-linejoin="round" filter="url(#b0_7)"/><path d="M76.0 22.1L76.8 21.4L80.0 19.4L84.0 17.2L88.0 15.0L92.0 12.5L94.7 11.6L96.0 12.5" fill="none" stroke="#ededed" stroke-width="2.4" stroke-linecap="round" stroke-linejoin="round" filter="url(#b0_5)"/><path d="M98.8 10.9L99.7 10.0L103.3 7.6L107.5 6.8L113.0 6.4" fill="none" stroke="#949494" stroke-width="9.6" stroke-linecap="round" stroke-linejoin="round" filter="url(#b1_5)"/><path d="M97.4 12.5L99.7 10.0L103.3 7.6L107.5 6.8L113.0 6.4" fill="none" stroke="#a3a3a3" stroke-width="6" stroke-linecap="round" stroke-linejoin="round" filter="url(#b1)"/></g>
<path d="M-1.5 -3.5L2.3 0.5L6.0 4.6L9.5 8.3L13.5 11.3L18.0 16.3L23.5 21.8L29.0 25.8L33.4 27.5L36.0 26.4L42.6 22.5L49.2 20.0L55.8 18.8L61.3 18.8L65.7 20.0L70.4 21.8L74.0 23.8L76.8 21.4L80.0 19.4L84.0 17.2L88.0 15.0L92.0 12.5L94.7 11.6L96.9 13.0L99.7 10.0L103.3 7.6L107.5 6.8L113.0 6.4L113 -4L-2 -4Z" fill="#c7ad81"/>
<path d="M-1.5 -3.5L2.3 0.5L6.0 4.6L9.5 8.3L13.5 11.3L18.0 16.3L23.5 21.8L29.0 25.8L33.4 27.5L36.0 26.4L42.6 22.5L49.2 20.0L55.8 18.8L61.3 18.8L65.7 20.0L70.4 21.8L74.0 23.8L76.8 21.4L80.0 19.4L84.0 17.2L88.0 15.0L92.0 12.5L94.7 11.6L96.9 13.0L99.7 10.0L103.3 7.6L107.5 6.8L113.0 6.4" fill="none" stroke="#220a02" stroke-width="1.3" stroke-linejoin="round"/>
<path d="M64.6 17.3L66 18.4M92.6 9.7L96.4 12.5M96 9.9L93.8 12.6" stroke="#111" stroke-width="1.25" fill="none"/>
<path d="M63.9 19.6L65.5 16.9L67.3 20.2ZM102.8 8L104 3.9L105.2 7.3ZM106.2 7.2L107.4 3.4L108.5 7ZM109.4 6.9L110.6 3.8L111.3 4.5V6.8Z" fill="#111"/>
</g>
<rect x="52.4" y="19.7" width="18.3" height="6.7" fill="none" stroke="#0c1a08" stroke-width="1.2"/>
<path d="M15 0v2.8M15 52v-2.8M52 0v2.8M52 52v-2.8M89.1 0v2.8M89.1 52v-2.8M0 11h2.8M111.3 11h-2.8M0 31.5h2.8M111.3 31.5h-2.8" stroke="#222" stroke-width="0.8" fill="none"/>
<rect x="0" y="0" width="111.3" height="52" fill="none" stroke="#1c241c" stroke-width="0.95"/>
<text x="42.4" y="14.4" font-size="10.2" textLength="23.4" lengthAdjust="spacingAndGlyphs" fill="#241c12" stroke="#241c12" stroke-width="0.2">2004</text>
</g>
<g transform="translate(160.3 139.5)">
<g clip-path="url(#pc)"><g filter="url(#cm3)"><rect x="-20" y="-20" width="152" height="92" fill="#393939"/><path d="M0.0 12.0L13.0 22.7L26.0 32.5L39.0 35.8L52.4 36.9L65.5 40.0L83.0 45.6L96.0 53.0L113.0 53.0L113.0 -6.0L0.0 -6.0Z" fill="#6b6b6b" filter="url(#b2_5)"/><path d="M55.0 36.0L65.5 37.0L83.0 41.0L100.0 46.0L113.0 46.0L113.0 -6.0L55.0 -6.0Z" fill="#7a7a7a" filter="url(#b2_5)"/><path d="M-1.5 -3.5L2.3 0.5L6.0 4.6L9.5 8.3L13.5 11.3L18.0 16.3L23.5 21.8L29.0 25.8L29.2 25.9" fill="none" stroke="#787878" stroke-width="12" stroke-linecap="round" stroke-linejoin="round" filter="url(#b2)"/><path d="M-1.5 -3.5L2.3 0.5L6.0 4.6L9.5 8.3L13.5 11.3L18.0 16.3L23.5 21.8L29.0 25.8L31.0 26.6" fill="none" stroke="#909090" stroke-width="7.44" stroke-linecap="round" stroke-linejoin="round" filter="url(#b1)"/><path d="M30.0 26.2L33.4 27.5L36.0 26.4L42.6 22.5L49.2 20.0L55.8 18.8L61.3 18.8L65.7 20.0L70.4 21.8L74.0 23.8L76.0 22.1" fill="none" stroke="#7d7d7d" stroke-width="22" stroke-linecap="round" stroke-linejoin="round" filter="url(#b3)"/><path d="M35.5 26.6L36.0 26.4L42.6 22.5L49.2 20.0L55.8 18.8L61.3 18.8L65.7 20.0L70.4 21.8L70.5 21.9" fill="none" stroke="#959595" stroke-width="13.64" stroke-linecap="round" stroke-linejoin="round" filter="url(#b2)"/><path d="M73.0 23.2L74.0 23.8L76.8 21.4L80.0 19.4L84.0 17.2L88.0 15.0L92.0 12.5L94.7 11.6L96.9 13.0L99.7 10.0L103.3 7.6L107.5 6.8L113.0 6.4" fill="none" stroke="#7d7d7d" stroke-width="28" stroke-linecap="round" stroke-linejoin="round" filter="url(#b4)"/><path d="M79.9 19.4L80.0 19.4L84.0 17.2L88.0 15.0L92.0 12.5L94.7 11.6L96.9 13.0L99.7 10.0L103.3 7.6L107.5 6.8L113.0 6.4" fill="none" stroke="#959595" stroke-width="17.36" stroke-linecap="round" stroke-linejoin="round" filter="url(#b3)"/><ellipse cx="88" cy="31" rx="10" ry="6" fill="#949494" transform="rotate(15 88 31)" filter="url(#b2_5)"/><path d="M-1.5 -3.5L2.3 0.5L6.0 4.6L9.5 8.3L13.5 11.3L18.0 16.3L23.5 21.8L29.0 25.8L32.6 27.2" fill="none" stroke="#b2b2b2" stroke-width="3.6" stroke-linecap="round" stroke-linejoin="round" filter="url(#b1)"/><path d="M-1.5 -3.5L2.3 0.5L6.0 4.6L9.5 8.3L13.5 11.3L18.0 16.3L23.5 21.8L29.0 25.8L32.7 27.2" fill="none" stroke="#d5d5d5" stroke-width="3.2" stroke-linecap="round" stroke-linejoin="round" filter="url(#b0_7)"/><path d="M-1.5 -3.5L2.3 0.5L6.0 4.6L9.5 8.3L13.5 11.3L18.0 16.3L23.5 21.8L29.0 25.8L33.4 27.5" fill="none" stroke="#ededed" stroke-width="1.6" stroke-linecap="round" stroke-linejoin="round" filter="url(#b0_5)"/><path d="M41.4 23.2L42.6 22.5L46.6 21.0" fill="none" stroke="#949494" stroke-width="18.6" stroke-linecap="round" stroke-linejoin="round" filter="url(#b1_5)"/><path d="M40.0 24.0L42.6 22.5L48.0 20.5" fill="none" stroke="#b2b2b2" stroke-width="15" stroke-linecap="round" stroke-linejoin="round" filter="url(#b1)"/><path d="M37.4 25.5L42.6 22.5L49.2 20.0L50.6 19.8" fill="none" stroke="#d5d5d5" stroke-width="8.6" stroke-linecap="round" stroke-linejoin="round" filter="url(#b0_7)"/><path d="M36.8 25.9L42.6 22.5L49.2 20.0L51.2 19.6" fill="none" stroke="#ededed" stroke-width="7" stroke-linecap="round" stroke-linejoin="round" filter="url(#b0_5)"/><ellipse cx="43" cy="27.5" rx="3" ry="1.5" fill="#b8b8b8" filter="url(#b1)"/><path d="M57.4 18.8L61.3 18.8L65.7 20.0L68.6 21.1" fill="none" stroke="#949494" stroke-width="13.6" stroke-linecap="round" stroke-linejoin="round" filter="url(#b1_5)"/><path d="M56.0 18.8L61.3 18.8L65.7 20.0L70.0 21.6" fill="none" stroke="#b2b2b2" stroke-width="10" stroke-linecap="round" stroke-linejoin="round" filter="url(#b1)"/><path d="M54.0 19.1L55.8 18.8L61.3 18.8L65.7 20.0L70.4 21.8L72.0 22.7" fill="none" stroke="#d5d5d5" stroke-width="5" stroke-linecap="round" stroke-linejoin="round" filter="url(#b0_7)"/><path d="M53.4 19.2L55.8 18.8L61.3 18.8L65.7 20.0L70.4 21.8L72.6 23.0" fill="none" stroke="#ededed" stroke-width="3.4" stroke-linecap="round" stroke-linejoin="round" filter="url(#b0_5)"/><path d="M79.2 19.9L77.8 20.8" fill="none" stroke="#949494" stroke-width="15.6" stroke-linecap="round" stroke-linejoin="round" filter="url(#b1_5)"/><path d="M77.8 20.8L79.2 19.9" fill="none" stroke="#b2b2b2" stroke-width="12" stroke-linecap="round" stroke-linejoin="round" filter="url(#b1)"/><path d="M75.8 22.3L76.8 21.4L80.0 19.4L81.2 18.7" fill="none" stroke="#d5d5d5" stroke-width="7" stroke-linecap="round" stroke-linejoin="round" filter="url(#b0_7)"/><path d="M75.2 22.8L76.8 21.4L80.0 19.4L81.8 18.4" fill="none" stroke="#ededed" stroke-width="5.4" stroke-linecap="round" stroke-linejoin="round" filter="url(#b0_5)"/><path d="M86.8 15.6L88.0 15.0L92.0 12.5L94.7 11.6L96.9 13.0L99.7 10.0L103.3 7.6L107.5 6.8L113.0 6.4" fill="none" stroke="#949494" stroke-width="9.6" stroke-linecap="round" stroke-linejoin="round" filter="url(#b1_5)"/><path d="M85.4 16.4L88.0 15.0L92.0 12.5L94.7 11.6L96.9 13.0L99.7 10.0L103.3 7.6L107.5 6.8L113.0 6.4" fill="none" stroke="#a3a3a3" stroke-width="6" stroke-linecap="round" stroke-linejoin="round" filter="url(#b1)"/></g>
<path d="M-1.5 -3.5L2.3 0.5L6.0 4.6L9.5 8.3L13.5 11.3L18.0 16.3L23.5 21.8L29.0 25.8L33.4 27.5L36.0 26.4L42.6 22.5L49.2 20.0L55.8 18.8L61.3 18.8L65.7 20.0L70.4 21.8L74.0 23.8L76.8 21.4L80.0 19.4L84.0 17.2L88.0 15.0L92.0 12.5L94.7 11.6L96.9 13.0L99.7 10.0L103.3 7.6L107.5 6.8L113.0 6.4L113 -4L-2 -4Z" fill="#c7ad81"/>
<path d="M-1.5 -3.5L2.3 0.5L6.0 4.6L9.5 8.3L13.5 11.3L18.0 16.3L23.5 21.8L29.0 25.8L33.4 27.5L36.0 26.4L42.6 22.5L49.2 20.0L55.8 18.8L61.3 18.8L65.7 20.0L70.4 21.8L74.0 23.8L76.8 21.4L80.0 19.4L84.0 17.2L88.0 15.0L92.0 12.5L94.7 11.6L96.9 13.0L99.7 10.0L103.3 7.6L107.5 6.8L113.0 6.4" fill="none" stroke="#220a02" stroke-width="1.3" stroke-linejoin="round"/>
<path d="M64.6 17.3L66 18.4M92.6 9.7L96.4 12.5M96 9.9L93.8 12.6" stroke="#111" stroke-width="1.25" fill="none"/>
<path d="M63.9 19.6L65.5 16.9L67.3 20.2ZM102.8 8L104 3.9L105.2 7.3ZM106.2 7.2L107.4 3.4L108.5 7ZM109.4 6.9L110.6 3.8L111.3 4.5V6.8Z" fill="#111"/>
</g>
<rect x="52.4" y="19.7" width="18.3" height="6.7" fill="none" stroke="#0c1a08" stroke-width="1.2"/>
<path d="M15 0v2.8M15 52v-2.8M52 0v2.8M52 52v-2.8M89.1 0v2.8M89.1 52v-2.8M0 11h2.8M111.3 11h-2.8M0 31.5h2.8M111.3 31.5h-2.8" stroke="#222" stroke-width="0.8" fill="none"/>
<rect x="0" y="0" width="111.3" height="52" fill="none" stroke="#1c241c" stroke-width="0.95"/>
<text x="42.4" y="14.4" font-size="10.2" textLength="23.4" lengthAdjust="spacingAndGlyphs" fill="#241c12" stroke="#241c12" stroke-width="0.2">2005</text>
</g>
<rect x="153.3" y="218.5" width="125.3" height="42" fill="#e6fbff" filter="url(#hb2)"/>
<g transform="translate(160.3 206.5)">
<g clip-path="url(#pc)"><g filter="url(#mu)"><rect x="-20" y="-20" width="152" height="92" fill="#393939"/><path d="M0.0 10.7L13.0 18.3L24.0 27.0L32.8 33.6L50.0 34.7L67.7 32.5L83.0 34.7L96.0 40.0L113.0 43.4L113.0 -6.0L0.0 -6.0Z" fill="#757575" filter="url(#b2)"/><ellipse cx="60" cy="40" rx="30" ry="4" fill="#525252" filter="url(#b3)"/><ellipse cx="95" cy="28" rx="16" ry="9" fill="#8c8c8c" filter="url(#b3)"/><path d="M-1.5 -3.5L2.3 0.5L6.0 4.6L9.5 8.3L13.5 11.3L18.0 16.3L23.5 21.8L29.0 25.8L30.8 26.5" fill="none" stroke="#7d7d7d" stroke-width="8" stroke-linecap="round" stroke-linejoin="round" filter="url(#b1)"/><path d="M-1.5 -3.5L2.3 0.5L6.0 4.6L9.5 8.3L13.5 11.3L18.0 16.3L23.5 21.8L29.0 25.8L32.0 27.0" fill="none" stroke="#959595" stroke-width="4.96" stroke-linecap="round" stroke-linejoin="round" filter="url(#b1)"/><path d="M36.4 26.2L42.6 22.5L49.2 20.0L55.8 18.8L61.3 18.8L65.7 20.0L70.4 21.8L74.0 23.8L76.8 21.4L80.0 19.4L84.0 17.2L88.0 15.0L92.0 12.5L94.7 11.6L96.9 13.0L99.7 10.0L103.3 7.6L107.5 6.8L113.0 6.4" fill="none" stroke="#808080" stroke-width="16" stroke-linecap="round" stroke-linejoin="round" filter="url(#b2)"/><path d="M34.0 27.3L36.0 26.4L42.6 22.5L49.2 20.0L55.8 18.8L61.3 18.8L65.7 20.0L70.4 21.8L74.0 23.8L76.8 21.4L80.0 19.4L84.0 17.2L88.0 15.0L92.0 12.5L94.7 11.6L96.9 13.0L99.7 10.0L103.3 7.6L107.5 6.8L113.0 6.4" fill="none" stroke="#989898" stroke-width="9.92" stroke-linecap="round" stroke-linejoin="round" filter="url(#b2)"/><ellipse cx="3" cy="6" rx="4" ry="4.5" fill="#a8a8a8" filter="url(#b1_5)"/><path d="M-1.5 -3.5L2.3 0.5L6.0 4.6L9.5 8.3L13.5 11.3L18.0 16.3L23.5 21.8L29.0 25.8L31.6 26.8" fill="none" stroke="#a8a8a8" stroke-width="6" stroke-linecap="round" stroke-linejoin="round" filter="url(#b1)"/><path d="M41.0 23.4L42.6 22.5L49.2 20.0L55.8 18.8L61.3 18.8L65.7 20.0L69.0 21.2" fill="none" stroke="#949494" stroke-width="17.6" stroke-linecap="round" stroke-linejoin="round" filter="url(#b1_5)"/><path d="M39.6 24.3L42.6 22.5L49.2 20.0L55.8 18.8L61.3 18.8L65.7 20.0L70.4 21.8L70.4 21.8" fill="none" stroke="#b0b0b0" stroke-width="14" stroke-linecap="round" stroke-linejoin="round" filter="url(#b1)"/><ellipse cx="61.5" cy="23.2" rx="9" ry="3.2" fill="#bababa" filter="url(#b1)"/><path d="M39.8 24.2L42.6 22.5L49.2 20.0L55.8 18.8L61.3 18.8L65.7 20.0L70.4 21.8L72.2 22.8" fill="none" stroke="#dddddd" stroke-width="4.4" stroke-linecap="round" stroke-linejoin="round" filter="url(#b0_7)"/><path d="M39.1 24.6L42.6 22.5L49.2 20.0L55.8 18.8L61.3 18.8L65.7 20.0L70.4 21.8L72.9 23.2" fill="none" stroke="#fcfcfc" stroke-width="2.8" stroke-linecap="round" stroke-linejoin="round" filter="url(#b0_5)"/><path d="M78.2 20.5L80.0 19.4L84.0 17.2L88.0 15.0L92.0 12.5L94.7 11.6L96.9 13.0L97.8 12.1" fill="none" stroke="#a3a3a3" stroke-width="5.6" stroke-linecap="round" stroke-linejoin="round" filter="url(#b1)"/></g>
<path d="M-1.5 -3.5L2.3 0.5L6.0 4.6L9.5 8.3L13.5 11.3L18.0 16.3L23.5 21.8L29.0 25.8L33.4 27.5L36.0 26.4L42.6 22.5L49.2 20.0L55.8 18.8L61.3 18.8L65.7 20.0L70.4 21.8L74.0 23.8L76.8 21.4L80.0 19.4L84.0 17.2L88.0 15.0L92.0 12.5L94.7 11.6L96.9 13.0L99.7 10.0L103.3 7.6L107.5 6.8L113.0 6.4L113 -4L-2 -4Z" fill="#c7ad81"/>
<path d="M-1.5 -3.5L2.3 0.5L6.0 4.6L9.5 8.3L13.5 11.3L18.0 16.3L23.5 21.8L29.0 25.8L33.4 27.5L36.0 26.4L42.6 22.5L49.2 20.0L55.8 18.8L61.3 18.8L65.7 20.0L70.4 21.8L74.0 23.8L76.8 21.4L80.0 19.4L84.0 17.2L88.0 15.0L92.0 12.5L94.7 11.6L96.9 13.0L99.7 10.0L103.3 7.6L107.5 6.8L113.0 6.4" fill="none" stroke="#220a02" stroke-width="1.3" stroke-linejoin="round"/>
<path d="M64.6 17.3L66 18.4M92.6 9.7L96.4 12.5M96 9.9L93.8 12.6" stroke="#111" stroke-width="1.25" fill="none"/>
<path d="M63.9 19.6L65.5 16.9L67.3 20.2ZM102.8 8L104 3.9L105.2 7.3ZM106.2 7.2L107.4 3.4L108.5 7ZM109.4 6.9L110.6 3.8L111.3 4.5V6.8Z" fill="#111"/>
</g>
<rect x="52.4" y="19.7" width="18.3" height="6.7" fill="none" stroke="#0c1a08" stroke-width="1.2"/>
<path d="M15 0v2.8M15 52v-2.8M52 0v2.8M52 52v-2.8M89.1 0v2.8M89.1 52v-2.8M0 11h2.8M111.3 11h-2.8M0 31.5h2.8M111.3 31.5h-2.8" stroke="#222" stroke-width="0.8" fill="none"/>
<rect x="0" y="0" width="111.3" height="52" fill="none" stroke="#1c241c" stroke-width="0.95"/>
<text x="42.4" y="14.4" font-size="10.2" textLength="23.4" lengthAdjust="spacingAndGlyphs" fill="#241c12" stroke="#241c12" stroke-width="0.2">2006</text>
</g>
<rect x="153.3" y="285.5" width="125.3" height="42" fill="#e6fbff" filter="url(#hb2)"/>
<g transform="translate(160.3 273.5)">
<g clip-path="url(#pc)"><g filter="url(#mu2)"><rect x="-20" y="-20" width="152" height="92" fill="#404040"/><ellipse cx="55" cy="55" rx="70" ry="6" fill="#303030" filter="url(#b3)"/><ellipse cx="5" cy="30" rx="8" ry="12" fill="#333333" filter="url(#b4)"/><path d="M0.0 11.8L13.0 20.5L22.0 29.0L35.0 37.0L52.4 39.0L72.0 39.0L94.0 43.4L113.0 44.5L113.0 -6.0L0.0 -6.0Z" fill="#7a7a7a" filter="url(#b2_5)"/><ellipse cx="92" cy="30" rx="16" ry="8" fill="#8c8c8c" filter="url(#b3)"/><path d="M-1.5 -3.5L2.3 0.5L6.0 4.6L9.5 8.3L13.5 11.3L18.0 16.3L23.5 21.8L29.0 25.8L30.8 26.5" fill="none" stroke="#7d7d7d" stroke-width="8" stroke-linecap="round" stroke-linejoin="round" filter="url(#b1)"/><path d="M-1.5 -3.5L2.3 0.5L6.0 4.6L9.5 8.3L13.5 11.3L18.0 16.3L23.5 21.8L29.0 25.8L32.0 27.0" fill="none" stroke="#959595" stroke-width="4.96" stroke-linecap="round" stroke-linejoin="round" filter="url(#b1)"/><path d="M37.2 25.7L42.6 22.5L49.2 20.0L55.8 18.8L61.3 18.8L65.7 20.0L70.4 21.8L74.0 23.8L76.8 21.4L80.0 19.4L84.0 17.2L88.0 15.0L92.0 12.5L94.7 11.6L96.9 13.0L99.7 10.0L103.3 7.6L107.5 6.8L113.0 6.4" fill="none" stroke="#808080" stroke-width="18" stroke-linecap="round" stroke-linejoin="round" filter="url(#b3)"/><path d="M34.5 27.0L36.0 26.4L42.6 22.5L49.2 20.0L55.8 18.8L61.3 18.8L65.7 20.0L70.4 21.8L74.0 23.8L76.8 21.4L80.0 19.4L84.0 17.2L88.0 15.0L92.0 12.5L94.7 11.6L96.9 13.0L99.7 10.0L103.3 7.6L107.5 6.8L113.0 6.4" fill="none" stroke="#989898" stroke-width="11.16" stroke-linecap="round" stroke-linejoin="round" filter="url(#b2)"/><ellipse cx="3" cy="6" rx="4" ry="4.5" fill="#a8a8a8" filter="url(#b1_5)"/><path d="M-1.5 -3.5L2.3 0.5L6.0 4.6L9.5 8.3L13.5 11.3L18.0 16.3L23.5 21.8L29.0 25.8L31.6 26.8" fill="none" stroke="#a8a8a8" stroke-width="6" stroke-linecap="round" stroke-linejoin="round" filter="url(#b1)"/><path d="M41.8 22.9L42.6 22.5L44.2 21.9" fill="none" stroke="#949494" stroke-width="19.6" stroke-linecap="round" stroke-linejoin="round" filter="url(#b1_5)"/><path d="M40.4 23.8L42.6 22.5L45.6 21.4" fill="none" stroke="#b2b2b2" stroke-width="16" stroke-linecap="round" stroke-linejoin="round" filter="url(#b1)"/><path d="M37.4 25.5L42.6 22.5L48.6 20.2" fill="none" stroke="#cdcdcd" stroke-width="8.6" stroke-linecap="round" stroke-linejoin="round" filter="url(#b0_7)"/><path d="M36.8 25.9L42.6 22.5L49.2 20.0L49.2 20.0" fill="none" stroke="#dedede" stroke-width="7" stroke-linecap="round" stroke-linejoin="round" filter="url(#b0_5)"/><ellipse cx="61.5" cy="23.2" rx="9" ry="3.2" fill="#ababab" filter="url(#b1)"/><path d="M80.8 18.9L84.0 17.2L88.0 15.0L90.2 13.7" fill="none" stroke="#949494" stroke-width="14.6" stroke-linecap="round" stroke-linejoin="round" filter="url(#b1_5)"/><path d="M79.4 19.8L80.0 19.4L84.0 17.2L88.0 15.0L91.6 12.8" fill="none" stroke="#a8a8a8" stroke-width="11" stroke-linecap="round" stroke-linejoin="round" filter="url(#b1)"/></g>
<path d="M-1.5 -3.5L2.3 0.5L6.0 4.6L9.5 8.3L13.5 11.3L18.0 16.3L23.5 21.8L29.0 25.8L33.4 27.5L36.0 26.4L42.6 22.5L49.2 20.0L55.8 18.8L61.3 18.8L65.7 20.0L70.4 21.8L74.0 23.8L76.8 21.4L80.0 19.4L84.0 17.2L88.0 15.0L92.0 12.5L94.7 11.6L96.9 13.0L99.7 10.0L103.3 7.6L107.5 6.8L113.0 6.4L113 -4L-2 -4Z" fill="#c7ad81"/>
<path d="M-1.5 -3.5L2.3 0.5L6.0 4.6L9.5 8.3L13.5 11.3L18.0 16.3L23.5 21.8L29.0 25.8L33.4 27.5L36.0 26.4L42.6 22.5L49.2 20.0L55.8 18.8L61.3 18.8L65.7 20.0L70.4 21.8L74.0 23.8L76.8 21.4L80.0 19.4L84.0 17.2L88.0 15.0L92.0 12.5L94.7 11.6L96.9 13.0L99.7 10.0L103.3 7.6L107.5 6.8L113.0 6.4" fill="none" stroke="#220a02" stroke-width="1.3" stroke-linejoin="round"/>
<path d="M64.6 17.3L66 18.4M92.6 9.7L96.4 12.5M96 9.9L93.8 12.6" stroke="#111" stroke-width="1.25" fill="none"/>
<path d="M63.9 19.6L65.5 16.9L67.3 20.2ZM102.8 8L104 3.9L105.2 7.3ZM106.2 7.2L107.4 3.4L108.5 7ZM109.4 6.9L110.6 3.8L111.3 4.5V6.8Z" fill="#111"/>
</g>
<rect x="52.4" y="19.7" width="18.3" height="6.7" fill="none" stroke="#0c1a08" stroke-width="1.2"/>
<path d="M15 0v2.8M15 52v-2.8M52 0v2.8M52 52v-2.8M89.1 0v2.8M89.1 52v-2.8M0 11h2.8M111.3 11h-2.8M0 31.5h2.8M111.3 31.5h-2.8" stroke="#222" stroke-width="0.8" fill="none"/>
<rect x="0" y="0" width="111.3" height="52" fill="none" stroke="#1c241c" stroke-width="0.95"/>
<text x="42.4" y="14.4" font-size="10.2" textLength="23.4" lengthAdjust="spacingAndGlyphs" fill="#241c12" stroke="#241c12" stroke-width="0.2">2007</text>
</g>
<text x="168.9" y="333.4" font-size="6.3" textLength="11.6" lengthAdjust="spacingAndGlyphs" fill="#111" font-weight="bold">10°<tspan font-size="5">W</tspan></text>
<text x="208.5" y="333.4" font-size="6.3" textLength="10" lengthAdjust="spacingAndGlyphs" fill="#111" font-weight="bold">5°<tspan font-size="5">W</tspan></text>
<text x="246.3" y="333.4" font-size="6.3" textLength="6.2" lengthAdjust="spacingAndGlyphs" fill="#111" font-weight="bold">0°</text>
<g transform="translate(297.1 5.5)">
<g clip-path="url(#pc)"><g filter="url(#cm)"><rect x="-20" y="-20" width="152" height="92" fill="#393939"/><path d="M0.0 18.3L9.0 25.0L20.0 29.0L28.5 38.0L39.5 43.4L52.5 49.0L61.0 53.0L113.0 53.0L113.0 -6.0L0.0 -6.0Z" fill="#6e6e6e" filter="url(#b2_5)"/><ellipse cx="73" cy="52" rx="12" ry="3.5" fill="#545454" filter="url(#b2_5)"/><ellipse cx="106" cy="50" rx="7" ry="5" fill="#545454" filter="url(#b2_5)"/><path d="M20.0 24.0L30.0 32.0L45.0 38.0L60.0 41.0L80.0 41.0L113.0 38.0L113.0 -6.0L20.0 -6.0Z" fill="#7d7d7d" filter="url(#b2_5)"/><path d="M14.8 12.7L18.0 16.3L23.5 21.8L29.0 25.8L29.2 25.9" fill="none" stroke="#7a7a7a" stroke-width="12" stroke-linecap="round" stroke-linejoin="round" filter="url(#b2)"/><path d="M13.0 10.9L13.5 11.3L18.0 16.3L23.5 21.8L29.0 25.8L31.0 26.6" fill="none" stroke="#939393" stroke-width="7.44" stroke-linecap="round" stroke-linejoin="round" filter="url(#b1)"/><path d="M30.0 26.2L33.4 27.5L36.0 26.4L42.6 22.5L49.2 20.0L55.8 18.8L61.3 18.8L65.7 20.0L70.4 21.8L74.0 23.8L76.0 22.1" fill="none" stroke="#808080" stroke-width="26" stroke-linecap="round" stroke-linejoin="round" filter="url(#b4)"/><path d="M36.4 26.1L42.6 22.5L49.2 20.0L55.8 18.8L61.3 18.8L65.7 20.0L69.6 21.5" fill="none" stroke="#989898" stroke-width="16.12" stroke-linecap="round" stroke-linejoin="round" filter="url(#b3)"/><path d="M73.0 23.2L74.0 23.8L76.8 21.4L80.0 19.4L84.0 17.2L88.0 15.0L92.0 12.5L94.7 11.6L96.9 13.0L99.7 10.0L103.3 7.6L107.5 6.8L113.0 6.4" fill="none" stroke="#808080" stroke-width="30" stroke-linecap="round" stroke-linejoin="round" filter="url(#b4)"/><path d="M80.4 19.2L84.0 17.2L88.0 15.0L92.0 12.5L94.7 11.6L96.9 13.0L99.7 10.0L103.3 7.6L107.5 6.8L113.0 6.4" fill="none" stroke="#989898" stroke-width="18.6" stroke-linecap="round" stroke-linejoin="round" filter="url(#b3)"/><path d="M-1.0 0.0L2.3 0.5L9.5 8.3L13.5 11.3L18.0 16.3L20.0 19.0L17.0 24.0L12.0 23.0L7.0 21.0L3.0 15.0L-1.0 16.0Z" fill="#a8a8a8" filter="url(#b1_5)"/><path d="M-1.0 0.0L2.3 0.5L9.5 8.3L13.5 11.3L15.5 14.0L12.0 16.5L8.0 15.5L5.0 11.5L-1.0 12.0Z" fill="#ededed" filter="url(#b1_2)"/><ellipse cx="12" cy="20" rx="3.5" ry="3" fill="#d6d6d6" transform="rotate(40 12 20)" filter="url(#b1_2)"/><ellipse cx="15.5" cy="22" rx="1.8" ry="1.4" fill="#e6e6e6" filter="url(#b0_8)"/><ellipse cx="6.5" cy="17" rx="1.5" ry="2.5" fill="#dbdbdb" filter="url(#b1)"/><ellipse cx="3" cy="10" rx="2" ry="3" fill="#bdbdbd" filter="url(#b1)"/><path d="M16.4 14.5L18.0 16.3L23.5 21.8L29.0 25.8L31.6 26.8" fill="none" stroke="#b2b2b2" stroke-width="6" stroke-linecap="round" stroke-linejoin="round" filter="url(#b1)"/><path d="M15.8 13.9L18.0 16.3L23.5 21.8L29.0 25.8L32.2 27.0" fill="none" stroke="#d5d5d5" stroke-width="4.6" stroke-linecap="round" stroke-linejoin="round" filter="url(#b0_7)"/><path d="M15.2 13.2L18.0 16.3L23.5 21.8L29.0 25.8L32.8 27.3" fill="none" stroke="#ededed" stroke-width="3" stroke-linecap="round" stroke-linejoin="round" filter="url(#b0_5)"/><path d="M34.0 27.2L36.0 26.4L42.6 22.5L49.2 20.0L55.8 18.8L56.0 18.8" fill="none" stroke="#949494" stroke-width="22.6" stroke-linecap="round" stroke-linejoin="round" filter="url(#b1_5)"/><path d="M41.6 23.1L42.6 22.5L48.4 20.3" fill="none" stroke="#b2b2b2" stroke-width="19" stroke-linecap="round" stroke-linejoin="round" filter="url(#b1)"/><path d="M38.7 24.8L42.6 22.5L49.2 20.0L51.3 19.6" fill="none" stroke="#d5d5d5" stroke-width="11.8" stroke-linecap="round" stroke-linejoin="round" filter="url(#b0_7)"/><path d="M38.1 25.2L42.6 22.5L49.2 20.0L51.9 19.5" fill="none" stroke="#ededed" stroke-width="10.2" stroke-linecap="round" stroke-linejoin="round" filter="url(#b0_5)"/><path d="M61.8 18.9L65.7 20.0L68.2 20.9" fill="none" stroke="#949494" stroke-width="19.6" stroke-linecap="round" stroke-linejoin="round" filter="url(#b1_5)"/><path d="M60.4 18.8L61.3 18.8L65.7 20.0L69.6 21.5" fill="none" stroke="#b2b2b2" stroke-width="16" stroke-linecap="round" stroke-linejoin="round" filter="url(#b1)"/><path d="M57.8 18.8L61.3 18.8L65.7 20.0L70.4 21.8L72.2 22.8" fill="none" stroke="#d5d5d5" stroke-width="9.4" stroke-linecap="round" stroke-linejoin="round" filter="url(#b0_7)"/><path d="M57.1 18.8L61.3 18.8L65.7 20.0L70.4 21.8L72.9 23.2" fill="none" stroke="#ededed" stroke-width="7.8" stroke-linecap="round" stroke-linejoin="round" filter="url(#b0_5)"/><path d="M82.4 18.1L84.0 17.2L87.6 15.2" fill="none" stroke="#949494" stroke-width="18.6" stroke-linecap="round" stroke-linejoin="round" filter="url(#b1_5)"/><path d="M81.0 18.8L84.0 17.2L88.0 15.0L89.0 14.4" fill="none" stroke="#b2b2b2" stroke-width="15" stroke-linecap="round" stroke-linejoin="round" filter="url(#b1)"/><path d="M76.7 21.5L76.8 21.4L80.0 19.4L84.0 17.2L88.0 15.0L92.0 12.5L93.3 12.1" fill="none" stroke="#d5d5d5" stroke-width="4.2" stroke-linecap="round" stroke-linejoin="round" filter="url(#b0_7)"/><path d="M76.0 22.1L76.8 21.4L80.0 19.4L84.0 17.2L88.0 15.0L92.0 12.5L94.0 11.8" fill="none" stroke="#ededed" stroke-width="2.6" stroke-linecap="round" stroke-linejoin="round" filter="url(#b0_5)"/><path d="M97.2 12.6L99.7 10.0L103.3 7.6L107.5 6.8L113.0 6.4" fill="none" stroke="#949494" stroke-width="10.6" stroke-linecap="round" stroke-linejoin="round" filter="url(#b1_5)"/><path d="M95.8 12.3L96.9 13.0L99.7 10.0L103.3 7.6L107.5 6.8L113.0 6.4" fill="none" stroke="#a8a8a8" stroke-width="7" stroke-linecap="round" stroke-linejoin="round" filter="url(#b1)"/></g>
<path d="M-1.5 -3.5L2.3 0.5L6.0 4.6L9.5 8.3L13.5 11.3L18.0 16.3L23.5 21.8L29.0 25.8L33.4 27.5L36.0 26.4L42.6 22.5L49.2 20.0L55.8 18.8L61.3 18.8L65.7 20.0L70.4 21.8L74.0 23.8L76.8 21.4L80.0 19.4L84.0 17.2L88.0 15.0L92.0 12.5L94.7 11.6L96.9 13.0L99.7 10.0L103.3 7.6L107.5 6.8L113.0 6.4L113 -4L-2 -4Z" fill="#c7ad81"/>
<path d="M-1.5 -3.5L2.3 0.5L6.0 4.6L9.5 8.3L13.5 11.3L18.0 16.3L23.5 21.8L29.0 25.8L33.4 27.5L36.0 26.4L42.6 22.5L49.2 20.0L55.8 18.8L61.3 18.8L65.7 20.0L70.4 21.8L74.0 23.8L76.8 21.4L80.0 19.4L84.0 17.2L88.0 15.0L92.0 12.5L94.7 11.6L96.9 13.0L99.7 10.0L103.3 7.6L107.5 6.8L113.0 6.4" fill="none" stroke="#220a02" stroke-width="1.3" stroke-linejoin="round"/>
<path d="M64.6 17.3L66 18.4M92.6 9.7L96.4 12.5M96 9.9L93.8 12.6" stroke="#111" stroke-width="1.25" fill="none"/>
<path d="M63.9 19.6L65.5 16.9L67.3 20.2ZM102.8 8L104 3.9L105.2 7.3ZM106.2 7.2L107.4 3.4L108.5 7ZM109.4 6.9L110.6 3.8L111.3 4.5V6.8Z" fill="#111"/>
</g>
<rect x="52.4" y="19.7" width="18.3" height="6.7" fill="none" stroke="#0c1a08" stroke-width="1.2"/>
<path d="M15 0v2.8M15 52v-2.8M52 0v2.8M52 52v-2.8M89.1 0v2.8M89.1 52v-2.8M0 11h2.8M111.3 11h-2.8M0 31.5h2.8M111.3 31.5h-2.8" stroke="#222" stroke-width="0.8" fill="none"/>
<rect x="0" y="0" width="111.3" height="52" fill="none" stroke="#1c241c" stroke-width="0.95"/>
<text x="42.4" y="14.4" font-size="10.2" textLength="23.4" lengthAdjust="spacingAndGlyphs" fill="#241c12" stroke="#241c12" stroke-width="0.2">2008</text>
</g>
<g transform="translate(297.1 72.5)">
<g clip-path="url(#pc)"><g filter="url(#cm2)"><rect x="-20" y="-20" width="152" height="92" fill="#393939"/><path d="M0.0 16.0L9.0 25.5L22.0 31.0L35.0 36.5L48.0 38.5L65.6 37.5L83.0 38.5L98.4 41.5L113.0 44.0L113.0 -6.0L0.0 -6.0Z" fill="#696969" filter="url(#b2)"/><path d="M0.0 12.5L9.0 21.5L22.0 27.5L35.0 33.0L48.0 35.0L65.6 34.0L83.0 35.0L98.4 37.5L113.0 39.5L113.0 -6.0L0.0 -6.0Z" fill="#7a7a7a" filter="url(#b2)"/><path d="M-1.5 -3.5L2.3 0.5L6.0 4.6L9.5 8.3L13.5 11.3L18.0 16.3L23.5 21.8L29.0 25.8L29.2 25.9" fill="none" stroke="#7a7a7a" stroke-width="12" stroke-linecap="round" stroke-linejoin="round" filter="url(#b2)"/><path d="M-1.5 -3.5L2.3 0.5L6.0 4.6L9.5 8.3L13.5 11.3L18.0 16.3L23.5 21.8L29.0 25.8L31.0 26.6" fill="none" stroke="#939393" stroke-width="7.44" stroke-linecap="round" stroke-linejoin="round" filter="url(#b1)"/><path d="M38.0 25.2L42.6 22.5L49.2 20.0L55.8 18.8L61.3 18.8L65.7 20.0L68.0 20.9" fill="none" stroke="#7d7d7d" stroke-width="20" stroke-linecap="round" stroke-linejoin="round" filter="url(#b3)"/><path d="M35.0 26.8L36.0 26.4L42.6 22.5L49.2 20.0L55.8 18.8L61.3 18.8L65.7 20.0L70.4 21.8L71.0 22.2" fill="none" stroke="#959595" stroke-width="12.4" stroke-linecap="round" stroke-linejoin="round" filter="url(#b2)"/><path d="M73.0 23.2L74.0 23.8L76.8 21.4L80.0 19.4L84.0 17.2L88.0 15.0L92.0 12.5L94.7 11.6L96.9 13.0L99.7 10.0L103.3 7.6L107.5 6.8L113.0 6.4" fill="none" stroke="#7d7d7d" stroke-width="28" stroke-linecap="round" stroke-linejoin="round" filter="url(#b4)"/><path d="M79.9 19.4L80.0 19.4L84.0 17.2L88.0 15.0L92.0 12.5L94.7 11.6L96.9 13.0L99.7 10.0L103.3 7.6L107.5 6.8L113.0 6.4" fill="none" stroke="#959595" stroke-width="17.36" stroke-linecap="round" stroke-linejoin="round" filter="url(#b3)"/><ellipse cx="48" cy="34" rx="2.2" ry="5" fill="#a8a8a8" transform="rotate(10 48 34)" filter="url(#b1_5)"/><path d="M-1.5 -3.5L2.3 0.5L6.0 4.6L9.5 8.3L13.5 11.3L18.0 16.3L23.5 21.8L29.0 25.8L31.6 26.8" fill="none" stroke="#b2b2b2" stroke-width="6" stroke-linecap="round" stroke-linejoin="round" filter="url(#b1)"/><path d="M-1.5 -3.5L2.3 0.5L6.0 4.6L9.5 8.3L13.5 11.3L18.0 16.3L23.5 21.8L29.0 25.8L32.2 27.0" fill="none" stroke="#d5d5d5" stroke-width="4.6" stroke-linecap="round" stroke-linejoin="round" filter="url(#b0_7)"/><path d="M-1.5 -3.5L2.3 0.5L6.0 4.6L9.5 8.3L13.5 11.3L18.0 16.3L23.5 21.8L29.0 25.8L32.8 27.3" fill="none" stroke="#ededed" stroke-width="3" stroke-linecap="round" stroke-linejoin="round" filter="url(#b0_5)"/><path d="M40.6 23.7L42.6 22.5L49.2 20.0L55.8 18.8L61.3 18.8L65.7 20.0L69.4 21.4" fill="none" stroke="#949494" stroke-width="16.6" stroke-linecap="round" stroke-linejoin="round" filter="url(#b1_5)"/><path d="M39.2 24.5L42.6 22.5L49.2 20.0L55.8 18.8L61.3 18.8L65.7 20.0L70.4 21.8L70.8 22.0" fill="none" stroke="#b2b2b2" stroke-width="13" stroke-linecap="round" stroke-linejoin="round" filter="url(#b1)"/><path d="M36.8 25.9L42.6 22.5L49.2 20.0L55.8 18.8L61.3 18.8L65.7 20.0L70.4 21.8L73.2 23.4" fill="none" stroke="#d5d5d5" stroke-width="7" stroke-linecap="round" stroke-linejoin="round" filter="url(#b0_7)"/><path d="M36.2 26.3L42.6 22.5L49.2 20.0L55.8 18.8L61.3 18.8L65.7 20.0L70.4 21.8L73.8 23.7" fill="none" stroke="#ededed" stroke-width="5.4" stroke-linecap="round" stroke-linejoin="round" filter="url(#b0_5)"/><path d="M82.0 18.3L84.0 17.2L88.0 15.0" fill="none" stroke="#949494" stroke-width="17.6" stroke-linecap="round" stroke-linejoin="round" filter="url(#b1_5)"/><path d="M80.6 19.1L84.0 17.2L88.0 15.0L89.4 14.1" fill="none" stroke="#b2b2b2" stroke-width="14" stroke-linecap="round" stroke-linejoin="round" filter="url(#b1)"/><path d="M76.6 21.6L76.8 21.4L80.0 19.4L84.0 17.2L88.0 15.0L92.0 12.5L93.4 12.0" fill="none" stroke="#d5d5d5" stroke-width="4" stroke-linecap="round" stroke-linejoin="round" filter="url(#b0_7)"/><path d="M76.0 22.1L76.8 21.4L80.0 19.4L84.0 17.2L88.0 15.0L92.0 12.5L94.0 11.8" fill="none" stroke="#ededed" stroke-width="2.4" stroke-linecap="round" stroke-linejoin="round" filter="url(#b0_5)"/><ellipse cx="75.5" cy="24.5" rx="3" ry="2.3" fill="#ededed" filter="url(#b1)"/><path d="M96.8 13.0L96.9 13.0L99.7 10.0L103.3 7.6L107.5 6.8L113.0 6.4" fill="none" stroke="#949494" stroke-width="9.6" stroke-linecap="round" stroke-linejoin="round" filter="url(#b1_5)"/><path d="M95.4 12.0L96.9 13.0L99.7 10.0L103.3 7.6L107.5 6.8L113.0 6.4" fill="none" stroke="#a3a3a3" stroke-width="6" stroke-linecap="round" stroke-linejoin="round" filter="url(#b1)"/></g>
<path d="M-1.5 -3.5L2.3 0.5L6.0 4.6L9.5 8.3L13.5 11.3L18.0 16.3L23.5 21.8L29.0 25.8L33.4 27.5L36.0 26.4L42.6 22.5L49.2 20.0L55.8 18.8L61.3 18.8L65.7 20.0L70.4 21.8L74.0 23.8L76.8 21.4L80.0 19.4L84.0 17.2L88.0 15.0L92.0 12.5L94.7 11.6L96.9 13.0L99.7 10.0L103.3 7.6L107.5 6.8L113.0 6.4L113 -4L-2 -4Z" fill="#c7ad81"/>
<path d="M-1.5 -3.5L2.3 0.5L6.0 4.6L9.5 8.3L13.5 11.3L18.0 16.3L23.5 21.8L29.0 25.8L33.4 27.5L36.0 26.4L42.6 22.5L49.2 20.0L55.8 18.8L61.3 18.8L65.7 20.0L70.4 21.8L74.0 23.8L76.8 21.4L80.0 19.4L84.0 17.2L88.0 15.0L92.0 12.5L94.7 11.6L96.9 13.0L99.7 10.0L103.3 7.6L107.5 6.8L113.0 6.4" fill="none" stroke="#220a02" stroke-width="1.3" stroke-linejoin="round"/>
<path d="M64.6 17.3L66 18.4M92.6 9.7L96.4 12.5M96 9.9L93.8 12.6" stroke="#111" stroke-width="1.25" fill="none"/>
<path d="M63.9 19.6L65.5 16.9L67.3 20.2ZM102.8 8L104 3.9L105.2 7.3ZM106.2 7.2L107.4 3.4L108.5 7ZM109.4 6.9L110.6 3.8L111.3 4.5V6.8Z" fill="#111"/>
</g>
<rect x="52.4" y="19.7" width="18.3" height="6.7" fill="none" stroke="#0c1a08" stroke-width="1.2"/>
<path d="M15 0v2.8M15 52v-2.8M52 0v2.8M52 52v-2.8M89.1 0v2.8M89.1 52v-2.8M0 11h2.8M111.3 11h-2.8M0 31.5h2.8M111.3 31.5h-2.8" stroke="#222" stroke-width="0.8" fill="none"/>
<rect x="0" y="0" width="111.3" height="52" fill="none" stroke="#1c241c" stroke-width="0.95"/>
<text x="42.4" y="14.4" font-size="10.2" textLength="23.4" lengthAdjust="spacingAndGlyphs" fill="#241c12" stroke="#241c12" stroke-width="0.2">2009</text>
</g>
<g transform="translate(297.1 139.5)">
<g clip-path="url(#pc)"><g filter="url(#cm3)"><rect x="-20" y="-20" width="152" height="92" fill="#383838"/><ellipse cx="55" cy="56" rx="70" ry="7" fill="#292929" filter="url(#b3)"/><path d="M0.0 9.5L9.0 19.0L20.0 27.5L33.0 34.5L48.0 36.0L68.0 33.7L83.0 32.6L98.4 31.5L113.0 28.0L113.0 -6.0L0.0 -6.0Z" fill="#6b6b6b" filter="url(#b1_8)"/><path d="M-1.5 -3.5L2.3 0.5L6.0 4.6L9.5 8.3L13.5 11.3L18.0 16.3L23.5 21.8L29.0 25.8L29.2 25.9" fill="none" stroke="#787878" stroke-width="12" stroke-linecap="round" stroke-linejoin="round" filter="url(#b2)"/><path d="M-1.5 -3.5L2.3 0.5L6.0 4.6L9.5 8.3L13.5 11.3L18.0 16.3L23.5 21.8L29.0 25.8L31.0 26.6" fill="none" stroke="#909090" stroke-width="7.44" stroke-linecap="round" stroke-linejoin="round" filter="url(#b1)"/><path d="M38.0 25.2L42.6 22.5L49.2 20.0L55.8 18.8L61.3 18.8L65.7 20.0L68.0 20.9" fill="none" stroke="#7d7d7d" stroke-width="20" stroke-linecap="round" stroke-linejoin="round" filter="url(#b3)"/><path d="M35.0 26.8L36.0 26.4L42.6 22.5L49.2 20.0L55.8 18.8L61.3 18.8L65.7 20.0L70.4 21.8L71.0 22.2" fill="none" stroke="#959595" stroke-width="12.4" stroke-linecap="round" stroke-linejoin="round" filter="url(#b2)"/><path d="M73.0 23.2L74.0 23.8L76.8 21.4L80.0 19.4L84.0 17.2L88.0 15.0L92.0 12.5L94.7 11.6L96.9 13.0L99.7 10.0L103.3 7.6L107.5 6.8L113.0 6.4" fill="none" stroke="#808080" stroke-width="26" stroke-linecap="round" stroke-linejoin="round" filter="url(#b4)"/><path d="M79.4 19.7L80.0 19.4L84.0 17.2L88.0 15.0L92.0 12.5L94.7 11.6L96.9 13.0L99.7 10.0L103.3 7.6L107.5 6.8L113.0 6.4" fill="none" stroke="#989898" stroke-width="16.12" stroke-linecap="round" stroke-linejoin="round" filter="url(#b3)"/><ellipse cx="10" cy="17" rx="1.2" ry="1.2" fill="#adadad" filter="url(#b0_7)"/><ellipse cx="12" cy="21" rx="1.2" ry="1.5" fill="#adadad" filter="url(#b0_7)"/><ellipse cx="14" cy="25" rx="1.2" ry="1.2" fill="#a8a8a8" filter="url(#b0_7)"/><ellipse cx="9" cy="20" rx="1" ry="1" fill="#a8a8a8" filter="url(#b0_7)"/><ellipse cx="2" cy="4" rx="3.5" ry="3.5" fill="#e6e6e6" filter="url(#b1_2)"/><path d="M-1.5 -3.5L2.3 0.5L6.0 4.6L9.5 8.3L13.5 11.3L18.0 16.3L23.5 21.8L29.0 25.8L31.6 26.8" fill="none" stroke="#b2b2b2" stroke-width="6" stroke-linecap="round" stroke-linejoin="round" filter="url(#b1)"/><path d="M-1.5 -3.5L2.3 0.5L6.0 4.6L9.5 8.3L13.5 11.3L18.0 16.3L23.5 21.8L29.0 25.8L32.2 27.0" fill="none" stroke="#d5d5d5" stroke-width="4.6" stroke-linecap="round" stroke-linejoin="round" filter="url(#b0_7)"/><path d="M-1.5 -3.5L2.3 0.5L6.0 4.6L9.5 8.3L13.5 11.3L18.0 16.3L23.5 21.8L29.0 25.8L32.8 27.3" fill="none" stroke="#ededed" stroke-width="3" stroke-linecap="round" stroke-linejoin="round" filter="url(#b0_5)"/><path d="M40.6 23.7L42.6 22.5L49.2 20.0L55.8 18.8L61.3 18.8L65.7 20.0L69.4 21.4" fill="none" stroke="#949494" stroke-width="16.6" stroke-linecap="round" stroke-linejoin="round" filter="url(#b1_5)"/><path d="M39.2 24.5L42.6 22.5L49.2 20.0L55.8 18.8L61.3 18.8L65.7 20.0L70.4 21.8L70.8 22.0" fill="none" stroke="#b2b2b2" stroke-width="13" stroke-linecap="round" stroke-linejoin="round" filter="url(#b1)"/><path d="M36.6 26.0L42.6 22.5L49.2 20.0L55.8 18.8L61.3 18.8L65.7 20.0L70.4 21.8L73.4 23.4" fill="none" stroke="#d5d5d5" stroke-width="6.6" stroke-linecap="round" stroke-linejoin="round" filter="url(#b0_7)"/><path d="M36.0 26.4L36.0 26.4L42.6 22.5L49.2 20.0L55.8 18.8L61.3 18.8L65.7 20.0L70.4 21.8L74.0 23.8L74.0 23.8" fill="none" stroke="#ededed" stroke-width="5" stroke-linecap="round" stroke-linejoin="round" filter="url(#b0_5)"/><path d="M82.8 17.8L84.0 17.2L88.0 15.0L92.0 12.5L92.2 12.4" fill="none" stroke="#949494" stroke-width="19.6" stroke-linecap="round" stroke-linejoin="round" filter="url(#b1_5)"/><path d="M81.4 18.6L84.0 17.2L88.0 15.0L92.0 12.5L93.6 12.0" fill="none" stroke="#b2b2b2" stroke-width="16" stroke-linecap="round" stroke-linejoin="round" filter="url(#b1)"/><path d="M76.4 21.7L76.8 21.4L80.0 19.4L84.0 17.2L88.0 15.0L92.0 12.5L94.7 11.6L96.9 13.0L98.6 11.2" fill="none" stroke="#d5d5d5" stroke-width="3.6" stroke-linecap="round" stroke-linejoin="round" filter="url(#b0_7)"/><path d="M75.8 22.3L76.8 21.4L80.0 19.4L84.0 17.2L88.0 15.0L92.0 12.5L94.7 11.6L96.9 13.0L99.2 10.5" fill="none" stroke="#ededed" stroke-width="2" stroke-linecap="round" stroke-linejoin="round" filter="url(#b0_5)"/><path d="M103.4 7.6L107.5 6.8L113.0 6.4" fill="none" stroke="#949494" stroke-width="13.6" stroke-linecap="round" stroke-linejoin="round" filter="url(#b1_5)"/><path d="M102.0 8.5L103.3 7.6L107.5 6.8L113.0 6.4" fill="none" stroke="#a8a8a8" stroke-width="10" stroke-linecap="round" stroke-linejoin="round" filter="url(#b1)"/></g>
<path d="M-1.5 -3.5L2.3 0.5L6.0 4.6L9.5 8.3L13.5 11.3L18.0 16.3L23.5 21.8L29.0 25.8L33.4 27.5L36.0 26.4L42.6 22.5L49.2 20.0L55.8 18.8L61.3 18.8L65.7 20.0L70.4 21.8L74.0 23.8L76.8 21.4L80.0 19.4L84.0 17.2L88.0 15.0L92.0 12.5L94.7 11.6L96.9 13.0L99.7 10.0L103.3 7.6L107.5 6.8L113.0 6.4L113 -4L-2 -4Z" fill="#c7ad81"/>
<path d="M-1.5 -3.5L2.3 0.5L6.0 4.6L9.5 8.3L13.5 11.3L18.0 16.3L23.5 21.8L29.0 25.8L33.4 27.5L36.0 26.4L42.6 22.5L49.2 20.0L55.8 18.8L61.3 18.8L65.7 20.0L70.4 21.8L74.0 23.8L76.8 21.4L80.0 19.4L84.0 17.2L88.0 15.0L92.0 12.5L94.7 11.6L96.9 13.0L99.7 10.0L103.3 7.6L107.5 6.8L113.0 6.4" fill="none" stroke="#220a02" stroke-width="1.3" stroke-linejoin="round"/>
<path d="M64.6 17.3L66 18.4M92.6 9.7L96.4 12.5M96 9.9L93.8 12.6" stroke="#111" stroke-width="1.25" fill="none"/>
<path d="M63.9 19.6L65.5 16.9L67.3 20.2ZM102.8 8L104 3.9L105.2 7.3ZM106.2 7.2L107.4 3.4L108.5 7ZM109.4 6.9L110.6 3.8L111.3 4.5V6.8Z" fill="#111"/>
</g>
<rect x="52.4" y="19.7" width="18.3" height="6.7" fill="none" stroke="#0c1a08" stroke-width="1.2"/>
<path d="M15 0v2.8M15 52v-2.8M52 0v2.8M52 52v-2.8M89.1 0v2.8M89.1 52v-2.8M0 11h2.8M111.3 11h-2.8M0 31.5h2.8M111.3 31.5h-2.8" stroke="#222" stroke-width="0.8" fill="none"/>
<rect x="0" y="0" width="111.3" height="52" fill="none" stroke="#1c241c" stroke-width="0.95"/>
<text x="42.4" y="14.4" font-size="10.2" textLength="23.4" lengthAdjust="spacingAndGlyphs" fill="#241c12" stroke="#241c12" stroke-width="0.2">2010</text>
</g>
<rect x="290.1" y="218.5" width="125.3" height="42" fill="#e6fbff" filter="url(#hb2)"/>
<g transform="translate(297.1 206.5)">
<g clip-path="url(#pc)"><g filter="url(#mu)"><rect x="-20" y="-20" width="152" height="92" fill="#383838"/><path d="M0.0 9.6L11.0 18.3L24.0 29.0L33.0 34.7L39.5 41.0L61.0 44.0L83.0 43.0L95.0 38.0L113.0 33.0L113.0 -6.0L0.0 -6.0Z" fill="#787878" filter="url(#b2_5)"/><ellipse cx="70" cy="36" rx="20" ry="6" fill="#8f8f8f" filter="url(#b3)"/><ellipse cx="97" cy="24" rx="9" ry="6" fill="#8a8a8a" filter="url(#b3)"/><path d="M-1.5 -3.5L2.3 0.5L6.0 4.6L9.5 8.3L13.5 11.3L18.0 16.3L23.5 21.8L29.0 25.8L30.8 26.5" fill="none" stroke="#7d7d7d" stroke-width="8" stroke-linecap="round" stroke-linejoin="round" filter="url(#b1)"/><path d="M-1.5 -3.5L2.3 0.5L6.0 4.6L9.5 8.3L13.5 11.3L18.0 16.3L23.5 21.8L29.0 25.8L32.0 27.0" fill="none" stroke="#959595" stroke-width="4.96" stroke-linecap="round" stroke-linejoin="round" filter="url(#b1)"/><path d="M36.4 26.2L42.6 22.5L49.2 20.0L55.8 18.8L61.3 18.8L65.7 20.0L70.4 21.8L74.0 23.8L76.8 21.4L80.0 19.4L84.0 17.2L88.0 15.0L92.0 12.5L94.7 11.6L96.9 13.0L99.7 10.0L103.3 7.6L107.5 6.8L113.0 6.4" fill="none" stroke="#808080" stroke-width="16" stroke-linecap="round" stroke-linejoin="round" filter="url(#b2)"/><path d="M34.0 27.3L36.0 26.4L42.6 22.5L49.2 20.0L55.8 18.8L61.3 18.8L65.7 20.0L70.4 21.8L74.0 23.8L76.8 21.4L80.0 19.4L84.0 17.2L88.0 15.0L92.0 12.5L94.7 11.6L96.9 13.0L99.7 10.0L103.3 7.6L107.5 6.8L113.0 6.4" fill="none" stroke="#989898" stroke-width="9.92" stroke-linecap="round" stroke-linejoin="round" filter="url(#b2)"/><path d="M-1.5 -3.5L2.3 0.5L6.0 4.6L9.5 8.3L13.5 11.3L18.0 16.3L23.5 21.8L29.0 25.8L31.8 26.9" fill="none" stroke="#a8a8a8" stroke-width="5.6" stroke-linecap="round" stroke-linejoin="round" filter="url(#b1)"/><path d="M40.0 24.0L42.6 22.5L49.2 20.0L55.8 18.8L61.3 18.8L65.7 20.0L70.4 21.8L74.0 23.8L76.8 21.4L80.0 19.4L84.0 17.2L86.0 16.1" fill="none" stroke="#949494" stroke-width="21.6" stroke-linecap="round" stroke-linejoin="round" filter="url(#b1_5)"/><path d="M47.2 20.8L49.2 20.0L55.8 18.8L61.3 18.8L65.7 20.0L70.4 21.8L74.0 23.8L76.8 21.4L78.8 20.1" fill="none" stroke="#b5b5b5" stroke-width="18" stroke-linecap="round" stroke-linejoin="round" filter="url(#b1)"/><ellipse cx="48" cy="29" rx="6" ry="4" fill="#b8b8b8" filter="url(#b1_5)"/><path d="M41.4 23.2L42.6 22.5L49.2 20.0L55.8 18.8L61.3 18.8L65.7 20.0L70.4 21.8L70.6 21.9" fill="none" stroke="#d1d1d1" stroke-width="3.6" stroke-linecap="round" stroke-linejoin="round" filter="url(#b0_7)"/><path d="M40.8 23.6L42.6 22.5L49.2 20.0L55.8 18.8L61.3 18.8L65.7 20.0L70.4 21.8L71.2 22.2" fill="none" stroke="#e6e6e6" stroke-width="2" stroke-linecap="round" stroke-linejoin="round" filter="url(#b0_5)"/><path d="M87.8 15.1L88.0 15.0L92.0 12.5L94.7 11.6L96.9 13.0L99.7 10.0L103.3 7.6L107.5 6.8L113.0 6.4" fill="none" stroke="#9e9e9e" stroke-width="4.4" stroke-linecap="round" stroke-linejoin="round" filter="url(#b1)"/></g>
<path d="M-1.5 -3.5L2.3 0.5L6.0 4.6L9.5 8.3L13.5 11.3L18.0 16.3L23.5 21.8L29.0 25.8L33.4 27.5L36.0 26.4L42.6 22.5L49.2 20.0L55.8 18.8L61.3 18.8L65.7 20.0L70.4 21.8L74.0 23.8L76.8 21.4L80.0 19.4L84.0 17.2L88.0 15.0L92.0 12.5L94.7 11.6L96.9 13.0L99.7 10.0L103.3 7.6L107.5 6.8L113.0 6.4L113 -4L-2 -4Z" fill="#c7ad81"/>
<path d="M-1.5 -3.5L2.3 0.5L6.0 4.6L9.5 8.3L13.5 11.3L18.0 16.3L23.5 21.8L29.0 25.8L33.4 27.5L36.0 26.4L42.6 22.5L49.2 20.0L55.8 18.8L61.3 18.8L65.7 20.0L70.4 21.8L74.0 23.8L76.8 21.4L80.0 19.4L84.0 17.2L88.0 15.0L92.0 12.5L94.7 11.6L96.9 13.0L99.7 10.0L103.3 7.6L107.5 6.8L113.0 6.4" fill="none" stroke="#220a02" stroke-width="1.3" stroke-linejoin="round"/>
<path d="M64.6 17.3L66 18.4M92.6 9.7L96.4 12.5M96 9.9L93.8 12.6" stroke="#111" stroke-width="1.25" fill="none"/>
<path d="M63.9 19.6L65.5 16.9L67.3 20.2ZM102.8 8L104 3.9L105.2 7.3ZM106.2 7.2L107.4 3.4L108.5 7ZM109.4 6.9L110.6 3.8L111.3 4.5V6.8Z" fill="#111"/>
</g>
<rect x="52.4" y="19.7" width="18.3" height="6.7" fill="none" stroke="#0c1a08" stroke-width="1.2"/>
<path d="M15 0v2.8M15 52v-2.8M52 0v2.8M52 52v-2.8M89.1 0v2.8M89.1 52v-2.8M0 11h2.8M111.3 11h-2.8M0 31.5h2.8M111.3 31.5h-2.8" stroke="#222" stroke-width="0.8" fill="none"/>
<rect x="0" y="0" width="111.3" height="52" fill="none" stroke="#1c241c" stroke-width="0.95"/>
<text x="42.4" y="14.4" font-size="10.2" textLength="23.4" lengthAdjust="spacingAndGlyphs" fill="#241c12" stroke="#241c12" stroke-width="0.2">2011</text>
</g>
<rect x="290.1" y="285.5" width="125.3" height="42" fill="#e6fbff" filter="url(#hb2)"/>
<g transform="translate(297.1 273.5)">
<g clip-path="url(#pc)"><g filter="url(#mu2)"><rect x="-20" y="-20" width="152" height="92" fill="#373737"/><path d="M0.0 12.9L11.0 20.5L22.0 29.0L39.5 33.6L50.4 40.0L68.0 46.7L83.0 44.5L98.4 46.7L113.0 43.4L113.0 -6.0L0.0 -6.0Z" fill="#737373" filter="url(#b2_5)"/><ellipse cx="95" cy="30" rx="10" ry="6" fill="#8c8c8c" filter="url(#b3)"/><ellipse cx="80" cy="38" rx="18" ry="6" fill="#878787" filter="url(#b3)"/><path d="M-1.5 -3.5L2.3 0.5L6.0 4.6L9.5 8.3L13.5 11.3L18.0 16.3L23.5 21.8L29.0 25.8L30.8 26.5" fill="none" stroke="#7d7d7d" stroke-width="8" stroke-linecap="round" stroke-linejoin="round" filter="url(#b1)"/><path d="M-1.5 -3.5L2.3 0.5L6.0 4.6L9.5 8.3L13.5 11.3L18.0 16.3L23.5 21.8L29.0 25.8L32.0 27.0" fill="none" stroke="#959595" stroke-width="4.96" stroke-linecap="round" stroke-linejoin="round" filter="url(#b1)"/><path d="M36.4 26.2L42.6 22.5L49.2 20.0L55.8 18.8L61.3 18.8L65.7 20.0L70.4 21.8L74.0 23.8L76.8 21.4L80.0 19.4L84.0 17.2L88.0 15.0L92.0 12.5L94.7 11.6L96.9 13.0L99.7 10.0L103.3 7.6L107.5 6.8L113.0 6.4" fill="none" stroke="#7d7d7d" stroke-width="16" stroke-linecap="round" stroke-linejoin="round" filter="url(#b2)"/><path d="M34.0 27.3L36.0 26.4L42.6 22.5L49.2 20.0L55.8 18.8L61.3 18.8L65.7 20.0L70.4 21.8L74.0 23.8L76.8 21.4L80.0 19.4L84.0 17.2L88.0 15.0L92.0 12.5L94.7 11.6L96.9 13.0L99.7 10.0L103.3 7.6L107.5 6.8L113.0 6.4" fill="none" stroke="#959595" stroke-width="9.92" stroke-linecap="round" stroke-linejoin="round" filter="url(#b2)"/><path d="M-1.5 -3.5L2.3 0.5L6.0 4.6L9.5 8.3L13.5 11.3L18.0 16.3L23.5 21.8L29.0 25.8L31.6 26.8" fill="none" stroke="#a8a8a8" stroke-width="6" stroke-linecap="round" stroke-linejoin="round" filter="url(#b1)"/><path d="M41.4 23.2L42.6 22.5L48.6 20.2" fill="none" stroke="#949494" stroke-width="18.6" stroke-linecap="round" stroke-linejoin="round" filter="url(#b1_5)"/><path d="M40.0 24.0L42.6 22.5L49.2 20.0L50.0 19.9" fill="none" stroke="#b2b2b2" stroke-width="15" stroke-linecap="round" stroke-linejoin="round" filter="url(#b1)"/><path d="M77.6 20.9L80.0 19.4L84.0 17.2L88.0 15.0L91.4 12.9" fill="none" stroke="#a3a3a3" stroke-width="6.4" stroke-linecap="round" stroke-linejoin="round" filter="url(#b1)"/></g>
<path d="M-1.5 -3.5L2.3 0.5L6.0 4.6L9.5 8.3L13.5 11.3L18.0 16.3L23.5 21.8L29.0 25.8L33.4 27.5L36.0 26.4L42.6 22.5L49.2 20.0L55.8 18.8L61.3 18.8L65.7 20.0L70.4 21.8L74.0 23.8L76.8 21.4L80.0 19.4L84.0 17.2L88.0 15.0L92.0 12.5L94.7 11.6L96.9 13.0L99.7 10.0L103.3 7.6L107.5 6.8L113.0 6.4L113 -4L-2 -4Z" fill="#c7ad81"/>
<path d="M-1.5 -3.5L2.3 0.5L6.0 4.6L9.5 8.3L13.5 11.3L18.0 16.3L23.5 21.8L29.0 25.8L33.4 27.5L36.0 26.4L42.6 22.5L49.2 20.0L55.8 18.8L61.3 18.8L65.7 20.0L70.4 21.8L74.0 23.8L76.8 21.4L80.0 19.4L84.0 17.2L88.0 15.0L92.0 12.5L94.7 11.6L96.9 13.0L99.7 10.0L103.3 7.6L107.5 6.8L113.0 6.4" fill="none" stroke="#220a02" stroke-width="1.3" stroke-linejoin="round"/>
<path d="M64.6 17.3L66 18.4M92.6 9.7L96.4 12.5M96 9.9L93.8 12.6" stroke="#111" stroke-width="1.25" fill="none"/>
<path d="M63.9 19.6L65.5 16.9L67.3 20.2ZM102.8 8L104 3.9L105.2 7.3ZM106.2 7.2L107.4 3.4L108.5 7ZM109.4 6.9L110.6 3.8L111.3 4.5V6.8Z" fill="#111"/>
</g>
<rect x="52.4" y="19.7" width="18.3" height="6.7" fill="none" stroke="#0c1a08" stroke-width="1.2"/>
<path d="M15 0v2.8M15 52v-2.8M52 0v2.8M52 52v-2.8M89.1 0v2.8M89.1 52v-2.8M0 11h2.8M111.3 11h-2.8M0 31.5h2.8M111.3 31.5h-2.8" stroke="#222" stroke-width="0.8" fill="none"/>
<rect x="0" y="0" width="111.3" height="52" fill="none" stroke="#1c241c" stroke-width="0.95"/>
<text x="42.4" y="14.4" font-size="10.2" textLength="23.4" lengthAdjust="spacingAndGlyphs" fill="#241c12" stroke="#241c12" stroke-width="0.2">2012</text>
</g>
<text x="305.7" y="333.4" font-size="6.3" textLength="11.6" lengthAdjust="spacingAndGlyphs" fill="#111" font-weight="bold">10°<tspan font-size="5">W</tspan></text>
<text x="345.3" y="333.4" font-size="6.3" textLength="10" lengthAdjust="spacingAndGlyphs" fill="#111" font-weight="bold">5°<tspan font-size="5">W</tspan></text>
<text x="383.1" y="333.4" font-size="6.3" textLength="6.2" lengthAdjust="spacingAndGlyphs" fill="#111" font-weight="bold">0°</text>
<g transform="translate(432.4 5.5)">
<g clip-path="url(#pc)"><g filter="url(#cm)"><rect x="-20" y="-20" width="152" height="92" fill="#383838"/><path d="M0.0 9.6L11.8 20.5L25.0 29.0L33.6 34.7L51.0 32.5L68.5 31.4L77.0 39.0L88.0 38.0L99.0 32.5L113.0 29.0L113.0 -6.0L0.0 -6.0Z" fill="#696969" filter="url(#b2)"/><path d="M-1.5 -3.5L2.3 0.5L6.0 4.6L9.5 8.3L13.5 11.3L18.0 16.3L23.5 21.8L29.0 25.8L30.4 26.3" fill="none" stroke="#787878" stroke-width="9" stroke-linecap="round" stroke-linejoin="round" filter="url(#b1)"/><path d="M-1.5 -3.5L2.3 0.5L6.0 4.6L9.5 8.3L13.5 11.3L18.0 16.3L23.5 21.8L29.0 25.8L31.8 26.9" fill="none" stroke="#909090" stroke-width="5.58" stroke-linecap="round" stroke-linejoin="round" filter="url(#b1)"/><path d="M36.4 26.2L42.6 22.5L49.2 20.0L55.8 18.8L61.3 18.8L65.7 20.0L69.6 21.5" fill="none" stroke="#7a7a7a" stroke-width="16" stroke-linecap="round" stroke-linejoin="round" filter="url(#b2)"/><path d="M34.0 27.3L36.0 26.4L42.6 22.5L49.2 20.0L55.8 18.8L61.3 18.8L65.7 20.0L70.4 21.8L72.0 22.7" fill="none" stroke="#939393" stroke-width="9.92" stroke-linecap="round" stroke-linejoin="round" filter="url(#b2)"/><path d="M73.0 23.2L74.0 23.8L76.8 21.4L80.0 19.4L84.0 17.2L88.0 15.0L92.0 12.5L94.7 11.6L96.9 13.0L99.7 10.0L103.3 7.6L107.5 6.8L113.0 6.4" fill="none" stroke="#7d7d7d" stroke-width="26" stroke-linecap="round" stroke-linejoin="round" filter="url(#b4)"/><path d="M79.4 19.7L80.0 19.4L84.0 17.2L88.0 15.0L92.0 12.5L94.7 11.6L96.9 13.0L99.7 10.0L103.3 7.6L107.5 6.8L113.0 6.4" fill="none" stroke="#959595" stroke-width="16.12" stroke-linecap="round" stroke-linejoin="round" filter="url(#b3)"/><ellipse cx="78" cy="32" rx="4.5" ry="6.5" fill="#999999" transform="rotate(-30 78 32)" filter="url(#b2)"/><path d="M-1.5 -3.5L2.3 0.5L6.0 4.6L9.5 8.3L13.5 11.3L18.0 16.3L23.5 21.8L29.0 25.8L32.1 27.0" fill="none" stroke="#b2b2b2" stroke-width="4.8" stroke-linecap="round" stroke-linejoin="round" filter="url(#b1)"/><path d="M-1.5 -3.5L2.3 0.5L6.0 4.6L9.5 8.3L13.5 11.3L18.0 16.3L23.5 21.8L29.0 25.8L32.4 27.1" fill="none" stroke="#d5d5d5" stroke-width="4" stroke-linecap="round" stroke-linejoin="round" filter="url(#b0_7)"/><path d="M-1.5 -3.5L2.3 0.5L6.0 4.6L9.5 8.3L13.5 11.3L18.0 16.3L23.5 21.8L29.0 25.8L33.0 27.4" fill="none" stroke="#ededed" stroke-width="2.4" stroke-linecap="round" stroke-linejoin="round" filter="url(#b0_5)"/><path d="M39.8 24.1L42.6 22.5L49.2 20.0L55.8 18.8L61.3 18.8L65.7 20.0L70.2 21.7" fill="none" stroke="#949494" stroke-width="14.6" stroke-linecap="round" stroke-linejoin="round" filter="url(#b1_5)"/><path d="M38.4 25.0L42.6 22.5L49.2 20.0L55.8 18.8L61.3 18.8L65.7 20.0L70.4 21.8L71.6 22.5" fill="none" stroke="#b2b2b2" stroke-width="11" stroke-linecap="round" stroke-linejoin="round" filter="url(#b1)"/><path d="M36.2 26.3L42.6 22.5L49.2 20.0L55.8 18.8L61.3 18.8L65.7 20.0L70.4 21.8L73.8 23.7" fill="none" stroke="#d5d5d5" stroke-width="5.6" stroke-linecap="round" stroke-linejoin="round" filter="url(#b0_7)"/><path d="M35.6 26.6L36.0 26.4L42.6 22.5L49.2 20.0L55.8 18.8L61.3 18.8L65.7 20.0L70.4 21.8L74.0 23.8L74.4 23.5" fill="none" stroke="#ededed" stroke-width="4" stroke-linecap="round" stroke-linejoin="round" filter="url(#b0_5)"/><path d="M80.8 18.9L84.0 17.2L88.0 15.0L91.2 13.0" fill="none" stroke="#949494" stroke-width="14.6" stroke-linecap="round" stroke-linejoin="round" filter="url(#b1_5)"/><path d="M79.4 19.8L80.0 19.4L84.0 17.2L88.0 15.0L92.0 12.5L92.6 12.3" fill="none" stroke="#b2b2b2" stroke-width="11" stroke-linecap="round" stroke-linejoin="round" filter="url(#b1)"/><path d="M76.6 21.6L76.8 21.4L80.0 19.4L84.0 17.2L88.0 15.0L92.0 12.5L94.7 11.6L95.4 12.0" fill="none" stroke="#d5d5d5" stroke-width="4" stroke-linecap="round" stroke-linejoin="round" filter="url(#b0_7)"/><path d="M76.0 22.1L76.8 21.4L80.0 19.4L84.0 17.2L88.0 15.0L92.0 12.5L94.7 11.6L96.0 12.5" fill="none" stroke="#ededed" stroke-width="2.4" stroke-linecap="round" stroke-linejoin="round" filter="url(#b0_5)"/><path d="M98.8 10.9L99.7 10.0L103.3 7.6L107.5 6.8L113.0 6.4" fill="none" stroke="#949494" stroke-width="9.6" stroke-linecap="round" stroke-linejoin="round" filter="url(#b1_5)"/><path d="M97.4 12.5L99.7 10.0L103.3 7.6L107.5 6.8L113.0 6.4" fill="none" stroke="#a3a3a3" stroke-width="6" stroke-linecap="round" stroke-linejoin="round" filter="url(#b1)"/></g>
<path d="M-1.5 -3.5L2.3 0.5L6.0 4.6L9.5 8.3L13.5 11.3L18.0 16.3L23.5 21.8L29.0 25.8L33.4 27.5L36.0 26.4L42.6 22.5L49.2 20.0L55.8 18.8L61.3 18.8L65.7 20.0L70.4 21.8L74.0 23.8L76.8 21.4L80.0 19.4L84.0 17.2L88.0 15.0L92.0 12.5L94.7 11.6L96.9 13.0L99.7 10.0L103.3 7.6L107.5 6.8L113.0 6.4L113 -4L-2 -4Z" fill="#c7ad81"/>
<path d="M-1.5 -3.5L2.3 0.5L6.0 4.6L9.5 8.3L13.5 11.3L18.0 16.3L23.5 21.8L29.0 25.8L33.4 27.5L36.0 26.4L42.6 22.5L49.2 20.0L55.8 18.8L61.3 18.8L65.7 20.0L70.4 21.8L74.0 23.8L76.8 21.4L80.0 19.4L84.0 17.2L88.0 15.0L92.0 12.5L94.7 11.6L96.9 13.0L99.7 10.0L103.3 7.6L107.5 6.8L113.0 6.4" fill="none" stroke="#220a02" stroke-width="1.3" stroke-linejoin="round"/>
<path d="M64.6 17.3L66 18.4M92.6 9.7L96.4 12.5M96 9.9L93.8 12.6" stroke="#111" stroke-width="1.25" fill="none"/>
<path d="M63.9 19.6L65.5 16.9L67.3 20.2ZM102.8 8L104 3.9L105.2 7.3ZM106.2 7.2L107.4 3.4L108.5 7ZM109.4 6.9L110.6 3.8L111.3 4.5V6.8Z" fill="#111"/>
</g>
<rect x="52.4" y="19.7" width="18.3" height="6.7" fill="none" stroke="#0c1a08" stroke-width="1.2"/>
<path d="M15 0v2.8M15 52v-2.8M52 0v2.8M52 52v-2.8M89.1 0v2.8M89.1 52v-2.8M0 11h2.8M111.3 11h-2.8M0 31.5h2.8M111.3 31.5h-2.8" stroke="#222" stroke-width="0.8" fill="none"/>
<rect x="0" y="0" width="111.3" height="52" fill="none" stroke="#1c241c" stroke-width="0.95"/>
<text x="42.4" y="14.4" font-size="10.2" textLength="23.4" lengthAdjust="spacingAndGlyphs" fill="#241c12" stroke="#241c12" stroke-width="0.2">2013</text>
</g>
<g transform="translate(432.4 72.5)">
<g clip-path="url(#pc)"><g filter="url(#cm2)"><rect x="-20" y="-20" width="152" height="92" fill="#393939"/><path d="M0.0 27.0L14.0 32.5L29.0 37.0L51.0 38.0L73.0 37.0L94.7 39.0L113.0 38.0L113.0 -6.0L0.0 -6.0Z" fill="#666666" filter="url(#b2_5)"/><path d="M0.0 21.0L14.0 27.0L29.0 32.0L51.0 33.5L73.0 32.5L94.7 34.0L113.0 33.0L113.0 -6.0L0.0 -6.0Z" fill="#7a7a7a" filter="url(#b2)"/><path d="M-1.5 -3.5L2.3 0.5L6.0 4.6L9.5 8.3L13.5 11.3L18.0 16.3L23.5 21.8L26.8 24.2" fill="none" stroke="#7d7d7d" stroke-width="18" stroke-linecap="round" stroke-linejoin="round" filter="url(#b3)"/><path d="M-1.5 -3.5L2.3 0.5L6.0 4.6L9.5 8.3L13.5 11.3L18.0 16.3L23.5 21.8L29.0 25.8L29.5 26.0" fill="none" stroke="#959595" stroke-width="11.16" stroke-linecap="round" stroke-linejoin="round" filter="url(#b2)"/><path d="M38.0 25.2L42.6 22.5L49.2 20.0L55.8 18.8L61.3 18.8L65.7 20.0L68.0 20.9" fill="none" stroke="#7d7d7d" stroke-width="20" stroke-linecap="round" stroke-linejoin="round" filter="url(#b3)"/><path d="M35.0 26.8L36.0 26.4L42.6 22.5L49.2 20.0L55.8 18.8L61.3 18.8L65.7 20.0L70.4 21.8L71.0 22.2" fill="none" stroke="#959595" stroke-width="12.4" stroke-linecap="round" stroke-linejoin="round" filter="url(#b2)"/><path d="M73.0 23.2L74.0 23.8L76.8 21.4L80.0 19.4L84.0 17.2L88.0 15.0L92.0 12.5L94.7 11.6L96.9 13.0L99.7 10.0L103.3 7.6L107.5 6.8L113.0 6.4" fill="none" stroke="#808080" stroke-width="28" stroke-linecap="round" stroke-linejoin="round" filter="url(#b4)"/><path d="M79.9 19.4L80.0 19.4L84.0 17.2L88.0 15.0L92.0 12.5L94.7 11.6L96.9 13.0L99.7 10.0L103.3 7.6L107.5 6.8L113.0 6.4" fill="none" stroke="#989898" stroke-width="17.36" stroke-linecap="round" stroke-linejoin="round" filter="url(#b3)"/><ellipse cx="2" cy="4.5" rx="3" ry="4.5" fill="#ededed" filter="url(#b1_2)"/><path d="M-1.5 -3.5L2.3 0.5L6.0 4.6L9.5 8.3L13.5 11.3L18.0 16.3L23.5 21.8L29.0 25.8L30.8 26.5" fill="none" stroke="#b2b2b2" stroke-width="8" stroke-linecap="round" stroke-linejoin="round" filter="url(#b1)"/><path d="M-1.5 -3.5L2.3 0.5L6.0 4.6L9.5 8.3L13.5 11.3L18.0 16.3L23.5 21.8L29.0 25.8L31.9 26.9" fill="none" stroke="#d5d5d5" stroke-width="5.2" stroke-linecap="round" stroke-linejoin="round" filter="url(#b0_7)"/><path d="M-1.5 -3.5L2.3 0.5L6.0 4.6L9.5 8.3L13.5 11.3L18.0 16.3L23.5 21.8L29.0 25.8L32.6 27.2" fill="none" stroke="#ededed" stroke-width="3.6" stroke-linecap="round" stroke-linejoin="round" filter="url(#b0_5)"/><path d="M41.0 23.4L42.6 22.5L48.0 20.5" fill="none" stroke="#949494" stroke-width="17.6" stroke-linecap="round" stroke-linejoin="round" filter="url(#b1_5)"/><path d="M39.6 24.3L42.6 22.5L49.2 20.0L49.4 20.0" fill="none" stroke="#b2b2b2" stroke-width="14" stroke-linecap="round" stroke-linejoin="round" filter="url(#b1)"/><path d="M37.4 25.5L42.6 22.5L49.2 20.0L51.6 19.6" fill="none" stroke="#d5d5d5" stroke-width="8.6" stroke-linecap="round" stroke-linejoin="round" filter="url(#b0_7)"/><path d="M36.8 25.9L42.6 22.5L49.2 20.0L52.2 19.5" fill="none" stroke="#ededed" stroke-width="7" stroke-linecap="round" stroke-linejoin="round" filter="url(#b0_5)"/><path d="M56.8 18.8L61.3 18.8L65.7 20.0L70.4 21.8L72.2 22.8" fill="none" stroke="#949494" stroke-width="9.6" stroke-linecap="round" stroke-linejoin="round" filter="url(#b1_5)"/><path d="M55.4 18.9L55.8 18.8L61.3 18.8L65.7 20.0L70.4 21.8L73.6 23.6" fill="none" stroke="#b2b2b2" stroke-width="6" stroke-linecap="round" stroke-linejoin="round" filter="url(#b1)"/><path d="M54.4 19.0L55.8 18.8L61.3 18.8L65.7 20.0L70.4 21.8L74.0 23.8L74.6 23.3" fill="none" stroke="#d5d5d5" stroke-width="3.6" stroke-linecap="round" stroke-linejoin="round" filter="url(#b0_7)"/><path d="M53.8 19.2L55.8 18.8L61.3 18.8L65.7 20.0L70.4 21.8L74.0 23.8L75.2 22.8" fill="none" stroke="#ededed" stroke-width="2" stroke-linecap="round" stroke-linejoin="round" filter="url(#b0_5)"/><ellipse cx="61.5" cy="23.5" rx="8" ry="2.5" fill="#999999" filter="url(#b1)"/><path d="M80.8 18.9L84.0 17.2L88.0 15.0L89.2 14.3" fill="none" stroke="#949494" stroke-width="14.6" stroke-linecap="round" stroke-linejoin="round" filter="url(#b1_5)"/><path d="M79.4 19.8L80.0 19.4L84.0 17.2L88.0 15.0L90.6 13.4" fill="none" stroke="#b2b2b2" stroke-width="11" stroke-linecap="round" stroke-linejoin="round" filter="url(#b1)"/><path d="M76.7 21.5L76.8 21.4L80.0 19.4L84.0 17.2L88.0 15.0L92.0 12.5L93.3 12.1" fill="none" stroke="#d5d5d5" stroke-width="4.2" stroke-linecap="round" stroke-linejoin="round" filter="url(#b0_7)"/><path d="M76.0 22.1L76.8 21.4L80.0 19.4L84.0 17.2L88.0 15.0L92.0 12.5L94.0 11.8" fill="none" stroke="#ededed" stroke-width="2.6" stroke-linecap="round" stroke-linejoin="round" filter="url(#b0_5)"/><path d="M96.8 13.0L96.9 13.0L99.7 10.0L103.3 7.6L107.5 6.8L113.0 6.4" fill="none" stroke="#949494" stroke-width="9.6" stroke-linecap="round" stroke-linejoin="round" filter="url(#b1_5)"/><path d="M95.4 12.0L96.9 13.0L99.7 10.0L103.3 7.6L107.5 6.8L113.0 6.4" fill="none" stroke="#a3a3a3" stroke-width="6" stroke-linecap="round" stroke-linejoin="round" filter="url(#b1)"/></g>
<path d="M-1.5 -3.5L2.3 0.5L6.0 4.6L9.5 8.3L13.5 11.3L18.0 16.3L23.5 21.8L29.0 25.8L33.4 27.5L36.0 26.4L42.6 22.5L49.2 20.0L55.8 18.8L61.3 18.8L65.7 20.0L70.4 21.8L74.0 23.8L76.8 21.4L80.0 19.4L84.0 17.2L88.0 15.0L92.0 12.5L94.7 11.6L96.9 13.0L99.7 10.0L103.3 7.6L107.5 6.8L113.0 6.4L113 -4L-2 -4Z" fill="#c7ad81"/>
<path d="M-1.5 -3.5L2.3 0.5L6.0 4.6L9.5 8.3L13.5 11.3L18.0 16.3L23.5 21.8L29.0 25.8L33.4 27.5L36.0 26.4L42.6 22.5L49.2 20.0L55.8 18.8L61.3 18.8L65.7 20.0L70.4 21.8L74.0 23.8L76.8 21.4L80.0 19.4L84.0 17.2L88.0 15.0L92.0 12.5L94.7 11.6L96.9 13.0L99.7 10.0L103.3 7.6L107.5 6.8L113.0 6.4" fill="none" stroke="#220a02" stroke-width="1.3" stroke-linejoin="round"/>
<path d="M64.6 17.3L66 18.4M92.6 9.7L96.4 12.5M96 9.9L93.8 12.6" stroke="#111" stroke-width="1.25" fill="none"/>
<path d="M63.9 19.6L65.5 16.9L67.3 20.2ZM102.8 8L104 3.9L105.2 7.3ZM106.2 7.2L107.4 3.4L108.5 7ZM109.4 6.9L110.6 3.8L111.3 4.5V6.8Z" fill="#111"/>
</g>
<rect x="52.4" y="19.7" width="18.3" height="6.7" fill="none" stroke="#0c1a08" stroke-width="1.2"/>
<path d="M15 0v2.8M15 52v-2.8M52 0v2.8M52 52v-2.8M89.1 0v2.8M89.1 52v-2.8M0 11h2.8M111.3 11h-2.8M0 31.5h2.8M111.3 31.5h-2.8" stroke="#222" stroke-width="0.8" fill="none"/>
<rect x="0" y="0" width="111.3" height="52" fill="none" stroke="#1c241c" stroke-width="0.95"/>
<text x="42.4" y="14.4" font-size="10.2" textLength="23.4" lengthAdjust="spacingAndGlyphs" fill="#241c12" stroke="#241c12" stroke-width="0.2">2014</text>
</g>
<text x="441" y="132.4" font-size="6.3" textLength="11.6" lengthAdjust="spacingAndGlyphs" fill="#111" font-weight="bold">10°<tspan font-size="5">W</tspan></text>
<text x="480.6" y="132.4" font-size="6.3" textLength="10" lengthAdjust="spacingAndGlyphs" fill="#111" font-weight="bold">5°<tspan font-size="5">W</tspan></text>
<text x="518.4" y="132.4" font-size="6.3" textLength="6.2" lengthAdjust="spacingAndGlyphs" fill="#111" font-weight="bold">0°</text>
<g filter="url(#hb)" opacity="0.5"><ellipse cx="166" cy="347.3" rx="5" ry="5" fill="#ff9ad0"/><ellipse cx="268" cy="347.3" rx="5.5" ry="5" fill="#ff9ad0"/></g>
<rect x="169.00" y="343.7" width="5.57" height="7.2" fill="#4a22d0"/>
<rect x="174.52" y="343.7" width="5.57" height="7.2" fill="#2a34cc"/>
<rect x="180.04" y="343.7" width="5.57" height="7.2" fill="#2250bc"/>
<rect x="185.55" y="343.7" width="5.57" height="7.2" fill="#20649e"/>
<rect x="191.07" y="343.7" width="5.57" height="7.2" fill="#1e767e"/>
<rect x="196.59" y="343.7" width="5.57" height="7.2" fill="#1e8656"/>
<rect x="202.11" y="343.7" width="5.57" height="7.2" fill="#229440"/>
<rect x="207.62" y="343.7" width="5.57" height="7.2" fill="#2ea236"/>
<rect x="213.14" y="343.7" width="5.57" height="7.2" fill="#48b032"/>
<rect x="218.66" y="343.7" width="5.57" height="7.2" fill="#78c030"/>
<rect x="224.18" y="343.7" width="5.57" height="7.2" fill="#b4d030"/>
<rect x="229.69" y="343.7" width="5.57" height="7.2" fill="#e4e02e"/>
<rect x="235.21" y="343.7" width="5.57" height="7.2" fill="#f2d02c"/>
<rect x="240.73" y="343.7" width="5.57" height="7.2" fill="#f08824"/>
<rect x="246.25" y="343.7" width="5.57" height="7.2" fill="#e25420"/>
<rect x="251.76" y="343.7" width="5.57" height="7.2" fill="#d2301c"/>
<rect x="257.28" y="343.7" width="5.57" height="7.2" fill="#a62414"/>
<path d="M169 343.7L164 347.3L169 350.9Z" fill="#6a1ec0"/>
<path d="M262.8 343.7L270 347.3L262.8 350.9Z" fill="#6e1c0c"/>
<path d="M174.52 343.7v7.2M180.04 343.7v7.2M185.55 343.7v7.2M191.07 343.7v7.2M196.59 343.7v7.2M202.11 343.7v7.2M207.62 343.7v7.2M213.14 343.7v7.2M218.66 343.7v7.2M224.18 343.7v7.2M229.69 343.7v7.2M235.21 343.7v7.2M240.73 343.7v7.2M246.25 343.7v7.2M251.76 343.7v7.2M257.28 343.7v7.2" stroke="#222" stroke-width="0.5" opacity="0.55"/>
<path d="M164 347.3L169 343.7L262.8 343.7L270 347.3L262.8 350.9L169 350.9Z" fill="none" stroke="#222" stroke-width="0.7"/>
<text x="161.4" y="359.3" font-size="6.8" textLength="14.4" lengthAdjust="spacingAndGlyphs" fill="#111" font-weight="bold">0.05</text>
<text x="186.9" y="359.3" font-size="6.8" textLength="10.2" lengthAdjust="spacingAndGlyphs" fill="#111" font-weight="bold">0.2</text>
<text x="209.8" y="359.3" font-size="6.8" textLength="10.2" lengthAdjust="spacingAndGlyphs" fill="#111" font-weight="bold">0.4</text>
<text x="233" y="359.3" font-size="6.8" textLength="10" lengthAdjust="spacingAndGlyphs" fill="#111" font-weight="bold">0.7</text>
<text x="256.9" y="359.3" font-size="6.8" textLength="9.4" lengthAdjust="spacingAndGlyphs" fill="#111" font-weight="bold">1.5</text>
<text x="275.9" y="354.4" font-size="10.6" fill="#1a1a1a" stroke="#1a1a1a" stroke-width="0.2" textLength="48.4" lengthAdjust="spacingAndGlyphs">Chlorophyll</text>
<text x="331.6" y="354.4" font-size="10.6" fill="#1a1a1a" stroke="#1a1a1a" stroke-width="0.2" textLength="41.9" lengthAdjust="spacingAndGlyphs">(mg/m<tspan font-size="7" dy="-4">3</tspan><tspan dy="4">)</tspan></text>
</svg></body></html>
